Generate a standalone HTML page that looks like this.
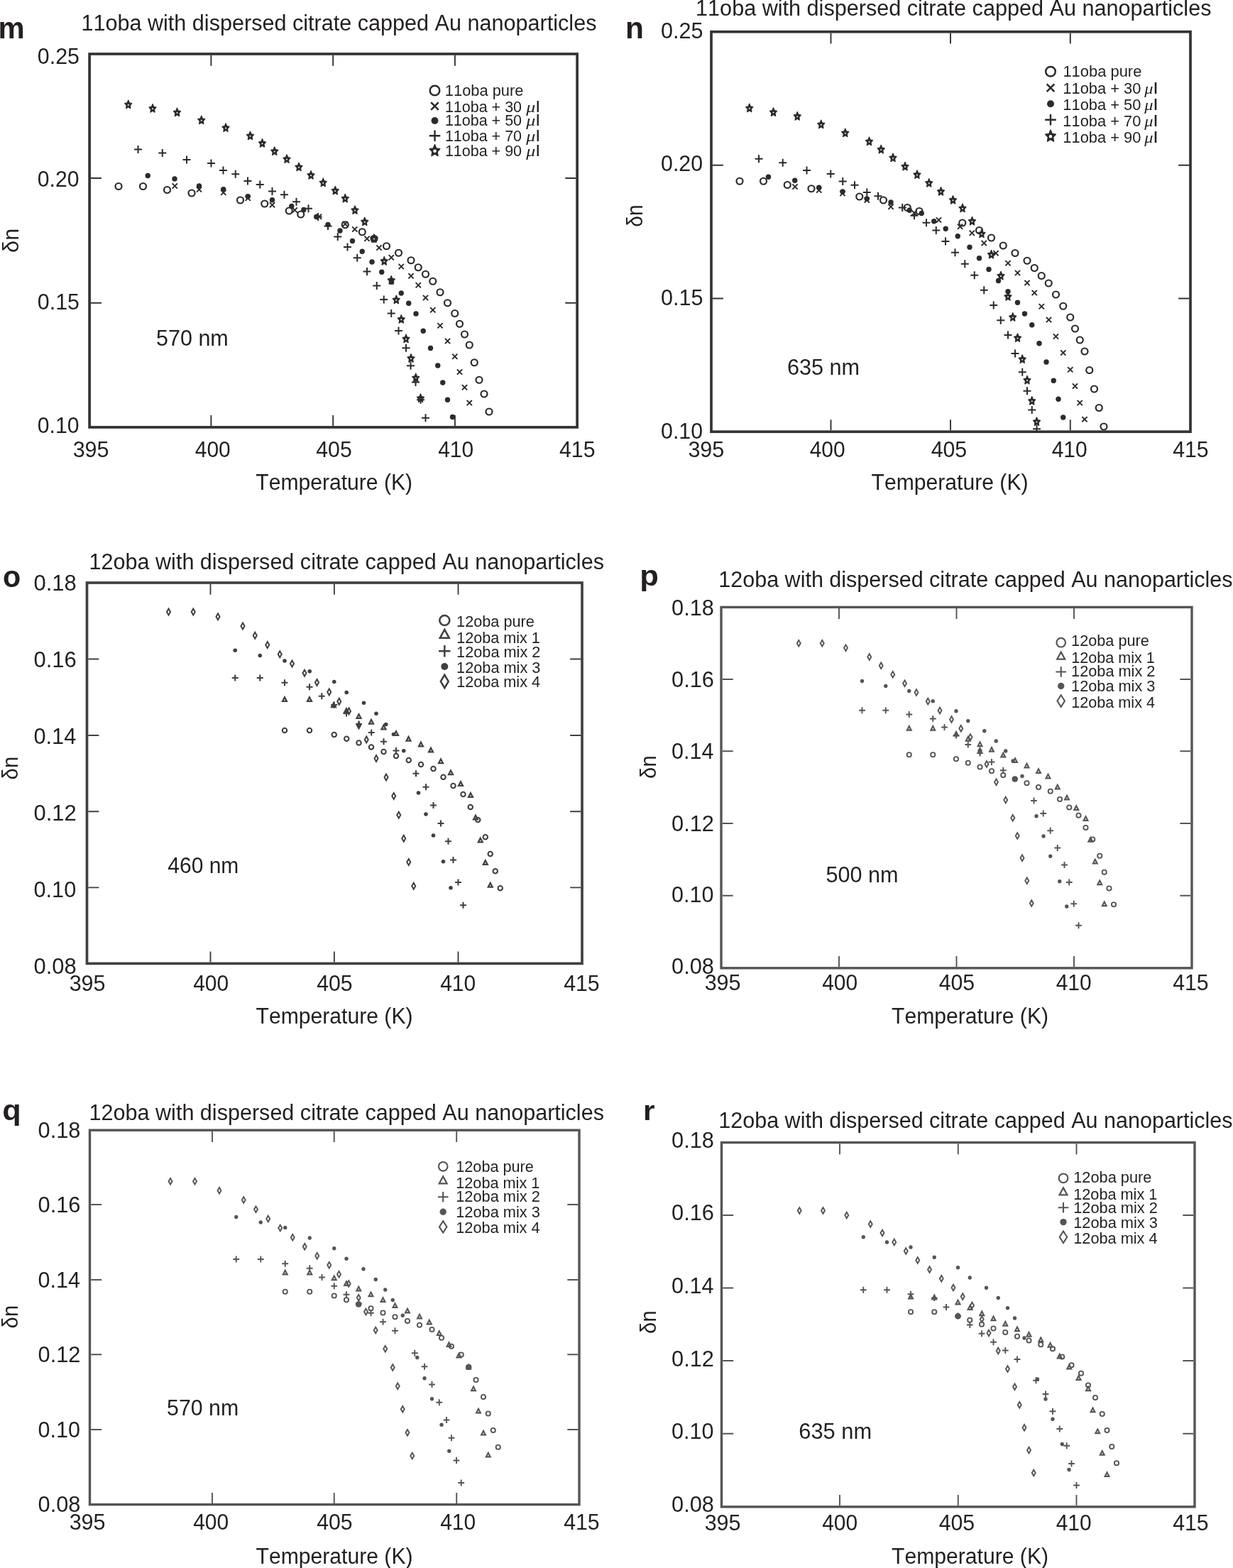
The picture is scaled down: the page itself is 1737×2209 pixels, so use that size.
<!DOCTYPE html>
<html lang="en"><head><meta charset="utf-8"><title>Birefringence of 11oba and 12oba with dispersed citrate capped Au nanoparticles</title>
<style>html,body{margin:0;padding:0;background:#fff}figure{margin:0;width:1737px;height:2209px;overflow:hidden}svg{display:block}text{white-space:pre;font-kerning:none}</style></head>
<body>
<figure>
<svg width="1737" height="2209" viewBox="0 0 1737 2209" font-family='"Liberation Sans", sans-serif' fill="#231f20">
<rect width="1737" height="2209" fill="#fff"/>
<g id="panel-m" aria-label="11oba with dispersed citrate capped Au nanoparticles — 570 nm">
<g class="plot">
<path d="M297.4 77.85v15M297.4 600.05v-15M469.2 77.85v15M469.2 600.05v-15M640.9 77.85v15M640.9 600.05v-15M127.95 251h15M811.25 251h-15M127.95 426.8h15M811.25 426.8h-15" stroke="#333" stroke-width="1.9" fill="none"/>
<rect x="126.1" y="76" width="687" height="525.9" fill="none" stroke="#333" stroke-width="3.7"/>
<circle cx="167" cy="262.5" r="4.5" fill="none" stroke="#2b2b2b" stroke-width="2.2"/>
<circle cx="201.5" cy="262.5" r="4.5" fill="none" stroke="#2b2b2b" stroke-width="2.2"/>
<circle cx="235.5" cy="267.5" r="4.5" fill="none" stroke="#2b2b2b" stroke-width="2.2"/>
<circle cx="270" cy="272" r="4.5" fill="none" stroke="#2b2b2b" stroke-width="2.2"/>
<circle cx="338.5" cy="282" r="4.5" fill="none" stroke="#2b2b2b" stroke-width="2.2"/>
<circle cx="372.75" cy="287" r="4.5" fill="none" stroke="#2b2b2b" stroke-width="2.2"/>
<circle cx="407.25" cy="297" r="4.5" fill="none" stroke="#2b2b2b" stroke-width="2.2"/>
<circle cx="423.75" cy="302" r="4.5" fill="none" stroke="#2b2b2b" stroke-width="2.2"/>
<circle cx="486.25" cy="316.75" r="4.5" fill="none" stroke="#2b2b2b" stroke-width="2.2"/>
<circle cx="510.25" cy="326.75" r="4.5" fill="none" stroke="#2b2b2b" stroke-width="2.2"/>
<circle cx="527" cy="336.25" r="4.5" fill="none" stroke="#2b2b2b" stroke-width="2.2"/>
<circle cx="544.5" cy="346.75" r="4.5" fill="none" stroke="#2b2b2b" stroke-width="2.2"/>
<circle cx="561.5" cy="356.25" r="4.5" fill="none" stroke="#2b2b2b" stroke-width="2.2"/>
<circle cx="579" cy="366.75" r="4.5" fill="none" stroke="#2b2b2b" stroke-width="2.2"/>
<circle cx="589.25" cy="376.75" r="4.5" fill="none" stroke="#2b2b2b" stroke-width="2.2"/>
<circle cx="599.5" cy="386.25" r="4.5" fill="none" stroke="#2b2b2b" stroke-width="2.2"/>
<circle cx="609.75" cy="396.25" r="4.5" fill="none" stroke="#2b2b2b" stroke-width="2.2"/>
<circle cx="620" cy="411.75" r="4.5" fill="none" stroke="#2b2b2b" stroke-width="2.2"/>
<circle cx="630.5" cy="426.75" r="4.5" fill="none" stroke="#2b2b2b" stroke-width="2.2"/>
<circle cx="640.75" cy="441.5" r="4.5" fill="none" stroke="#2b2b2b" stroke-width="2.2"/>
<circle cx="647.5" cy="456.25" r="4.5" fill="none" stroke="#2b2b2b" stroke-width="2.2"/>
<circle cx="654.5" cy="471" r="4.5" fill="none" stroke="#2b2b2b" stroke-width="2.2"/>
<circle cx="661.25" cy="486" r="4.5" fill="none" stroke="#2b2b2b" stroke-width="2.2"/>
<circle cx="668.25" cy="510.75" r="4.5" fill="none" stroke="#2b2b2b" stroke-width="2.2"/>
<circle cx="675" cy="535.25" r="4.5" fill="none" stroke="#2b2b2b" stroke-width="2.2"/>
<circle cx="682" cy="555" r="4.5" fill="none" stroke="#2b2b2b" stroke-width="2.2"/>
<circle cx="689" cy="580" r="4.5" fill="none" stroke="#2b2b2b" stroke-width="2.2"/>
<path d="M242.65 258.4L249.85 265.6M242.65 265.6L249.85 258.4" stroke="#2b2b2b" stroke-width="2" fill="none"/>
<path d="M276.9 263.4L284.1 270.6M276.9 270.6L284.1 263.4" stroke="#2b2b2b" stroke-width="2" fill="none"/>
<path d="M311.15 267.65L318.35 274.85M311.15 274.85L318.35 267.65" stroke="#2b2b2b" stroke-width="2" fill="none"/>
<path d="M345.65 275.65L352.85 282.85M345.65 282.85L352.85 275.65" stroke="#2b2b2b" stroke-width="2" fill="none"/>
<path d="M379.9 285.15L387.1 292.35M379.9 292.35L387.1 285.15" stroke="#2b2b2b" stroke-width="2" fill="none"/>
<path d="M411.65 292.4L418.85 299.6M411.65 299.6L418.85 292.4" stroke="#2b2b2b" stroke-width="2" fill="none"/>
<path d="M445.9 301.65L453.1 308.85M445.9 308.85L453.1 301.65" stroke="#2b2b2b" stroke-width="2" fill="none"/>
<path d="M482.65 311.9L489.85 319.1M482.65 319.1L489.85 311.9" stroke="#2b2b2b" stroke-width="2" fill="none"/>
<path d="M496.15 319.4L503.35 326.6M496.15 326.6L503.35 319.4" stroke="#2b2b2b" stroke-width="2" fill="none"/>
<path d="M513.4 332.65L520.6 339.85M513.4 339.85L520.6 332.65" stroke="#2b2b2b" stroke-width="2" fill="none"/>
<path d="M530.4 345.4L537.6 352.6M530.4 352.6L537.6 345.4" stroke="#2b2b2b" stroke-width="2" fill="none"/>
<path d="M547.65 359.15L554.85 366.35M547.65 366.35L554.85 359.15" stroke="#2b2b2b" stroke-width="2" fill="none"/>
<path d="M561.65 371.9L568.85 379.1M561.65 379.1L568.85 371.9" stroke="#2b2b2b" stroke-width="2" fill="none"/>
<path d="M575.4 385.15L582.6 392.35M575.4 392.35L582.6 385.15" stroke="#2b2b2b" stroke-width="2" fill="none"/>
<path d="M585.65 398.15L592.85 405.35M585.65 405.35L592.85 398.15" stroke="#2b2b2b" stroke-width="2" fill="none"/>
<path d="M595.9 415.9L603.1 423.1M595.9 423.1L603.1 415.9" stroke="#2b2b2b" stroke-width="2" fill="none"/>
<path d="M606.15 433.15L613.35 440.35M606.15 440.35L613.35 433.15" stroke="#2b2b2b" stroke-width="2" fill="none"/>
<path d="M616.4 455.15L623.6 462.35M616.4 462.35L623.6 455.15" stroke="#2b2b2b" stroke-width="2" fill="none"/>
<path d="M626.9 476.9L634.1 484.1M626.9 484.1L634.1 476.9" stroke="#2b2b2b" stroke-width="2" fill="none"/>
<path d="M637.15 498.65L644.35 505.85M637.15 505.85L644.35 498.65" stroke="#2b2b2b" stroke-width="2" fill="none"/>
<path d="M643.9 520.4L651.1 527.6M643.9 527.6L651.1 520.4" stroke="#2b2b2b" stroke-width="2" fill="none"/>
<path d="M650.9 542.15L658.1 549.35M650.9 549.35L658.1 542.15" stroke="#2b2b2b" stroke-width="2" fill="none"/>
<path d="M657.65 563.9L664.85 571.1M657.65 571.1L664.85 563.9" stroke="#2b2b2b" stroke-width="2" fill="none"/>
<path d="M189 210.5H200M194.5 205V216" stroke="#2b2b2b" stroke-width="2" fill="none"/>
<path d="M223.25 215.5H234.25M228.75 210V221" stroke="#2b2b2b" stroke-width="2" fill="none"/>
<path d="M257.5 225H268.5M263 219.5V230.5" stroke="#2b2b2b" stroke-width="2" fill="none"/>
<path d="M292 230H303M297.5 224.5V235.5" stroke="#2b2b2b" stroke-width="2" fill="none"/>
<path d="M309 240H320M314.5 234.5V245.5" stroke="#2b2b2b" stroke-width="2" fill="none"/>
<path d="M326.25 245.25H337.25M331.75 239.75V250.75" stroke="#2b2b2b" stroke-width="2" fill="none"/>
<path d="M343.5 255H354.5M349 249.5V260.5" stroke="#2b2b2b" stroke-width="2" fill="none"/>
<path d="M360.75 260H371.75M366.25 254.5V265.5" stroke="#2b2b2b" stroke-width="2" fill="none"/>
<path d="M378 269.5H389M383.5 264V275" stroke="#2b2b2b" stroke-width="2" fill="none"/>
<path d="M395 274.25H406M400.5 268.75V279.75" stroke="#2b2b2b" stroke-width="2" fill="none"/>
<path d="M412 284.25H423M417.5 278.75V289.75" stroke="#2b2b2b" stroke-width="2" fill="none"/>
<path d="M429 293.75H440M434.5 288.25V299.25" stroke="#2b2b2b" stroke-width="2" fill="none"/>
<path d="M442.7 305.6H453.7M448.2 300.1V311.1" stroke="#2b2b2b" stroke-width="2" fill="none"/>
<path d="M456.5 318.5H467.5M462 313V324" stroke="#2b2b2b" stroke-width="2" fill="none"/>
<path d="M470.3 333.4H481.3M475.8 327.9V338.9" stroke="#2b2b2b" stroke-width="2" fill="none"/>
<path d="M484 348H495M489.5 342.5V353.5" stroke="#2b2b2b" stroke-width="2" fill="none"/>
<path d="M497.75 363.25H508.75M503.25 357.75V368.75" stroke="#2b2b2b" stroke-width="2" fill="none"/>
<path d="M511.5 382.5H522.5M517 377V388" stroke="#2b2b2b" stroke-width="2" fill="none"/>
<path d="M525.25 402.5H536.25M530.75 397V408" stroke="#2b2b2b" stroke-width="2" fill="none"/>
<path d="M535.25 422H546.25M540.75 416.5V427.5" stroke="#2b2b2b" stroke-width="2" fill="none"/>
<path d="M545.75 441.5H556.75M551.25 436V447" stroke="#2b2b2b" stroke-width="2" fill="none"/>
<path d="M556 466H567M561.5 460.5V471.5" stroke="#2b2b2b" stroke-width="2" fill="none"/>
<path d="M566.5 490.25H577.5M572 484.75V495.75" stroke="#2b2b2b" stroke-width="2" fill="none"/>
<path d="M573 515.25H584M578.5 509.75V520.75" stroke="#2b2b2b" stroke-width="2" fill="none"/>
<path d="M580 538.5H591M585.5 533V544" stroke="#2b2b2b" stroke-width="2" fill="none"/>
<path d="M587 563.25H598M592.5 557.75V568.75" stroke="#2b2b2b" stroke-width="2" fill="none"/>
<path d="M594 588.75H605M599.5 583.25V594.25" stroke="#2b2b2b" stroke-width="2" fill="none"/>
<circle cx="208.25" cy="247.5" r="3.7" fill="#2b2b2b"/>
<circle cx="246" cy="252" r="3.7" fill="#2b2b2b"/>
<circle cx="280.5" cy="262" r="3.7" fill="#2b2b2b"/>
<circle cx="314.75" cy="266.75" r="3.7" fill="#2b2b2b"/>
<circle cx="349.25" cy="276.75" r="3.7" fill="#2b2b2b"/>
<circle cx="383.5" cy="281.75" r="3.7" fill="#2b2b2b"/>
<circle cx="410.75" cy="290.5" r="3.7" fill="#2b2b2b"/>
<circle cx="427.9" cy="295.4" r="3.7" fill="#2b2b2b"/>
<circle cx="445.75" cy="305.5" r="3.7" fill="#2b2b2b"/>
<circle cx="462" cy="316.5" r="3.7" fill="#2b2b2b"/>
<circle cx="479" cy="325" r="3.7" fill="#2b2b2b"/>
<circle cx="496.5" cy="339.5" r="3.7" fill="#2b2b2b"/>
<circle cx="510.25" cy="354.25" r="3.7" fill="#2b2b2b"/>
<circle cx="524" cy="369" r="3.7" fill="#2b2b2b"/>
<circle cx="537.75" cy="383.25" r="3.7" fill="#2b2b2b"/>
<circle cx="551.5" cy="397.25" r="3.7" fill="#2b2b2b"/>
<circle cx="565.25" cy="413" r="3.7" fill="#2b2b2b"/>
<circle cx="575.75" cy="427.25" r="3.7" fill="#2b2b2b"/>
<circle cx="586" cy="442" r="3.7" fill="#2b2b2b"/>
<circle cx="596.25" cy="466.25" r="3.7" fill="#2b2b2b"/>
<circle cx="606.5" cy="490.5" r="3.7" fill="#2b2b2b"/>
<circle cx="616.75" cy="515" r="3.7" fill="#2b2b2b"/>
<circle cx="623.75" cy="539" r="3.7" fill="#2b2b2b"/>
<circle cx="630.5" cy="563.25" r="3.7" fill="#2b2b2b"/>
<circle cx="637.5" cy="587.5" r="3.7" fill="#2b2b2b"/>
<path fill-rule="evenodd" d="M180.75 141.1L182.31 144.91L185.8 145.52L183.28 148.49L183.87 152.68L180.75 150.7L177.63 152.68L178.22 148.49L175.7 145.52L179.19 144.91ZM179.15 147.8a1.6 1.6 0 1 0 3.2 0a1.6 1.6 0 1 0 -3.2 0Z" fill="#2b2b2b" stroke="#2b2b2b" stroke-width="1.2" stroke-linejoin="round"/>
<path fill-rule="evenodd" d="M215 146.6L216.56 150.41L220.05 151.02L217.53 153.99L218.12 158.18L215 156.2L211.88 158.18L212.47 153.99L209.95 151.02L213.44 150.41ZM213.4 153.3a1.6 1.6 0 1 0 3.2 0a1.6 1.6 0 1 0 -3.2 0Z" fill="#2b2b2b" stroke="#2b2b2b" stroke-width="1.2" stroke-linejoin="round"/>
<path fill-rule="evenodd" d="M249.5 152.1L251.06 155.91L254.55 156.52L252.03 159.49L252.62 163.68L249.5 161.7L246.38 163.68L246.97 159.49L244.45 156.52L247.94 155.91ZM247.9 158.8a1.6 1.6 0 1 0 3.2 0a1.6 1.6 0 1 0 -3.2 0Z" fill="#2b2b2b" stroke="#2b2b2b" stroke-width="1.2" stroke-linejoin="round"/>
<path fill-rule="evenodd" d="M283.75 163.1L285.31 166.91L288.8 167.52L286.28 170.49L286.87 174.68L283.75 172.7L280.63 174.68L281.22 170.49L278.7 167.52L282.19 166.91ZM282.15 169.8a1.6 1.6 0 1 0 3.2 0a1.6 1.6 0 1 0 -3.2 0Z" fill="#2b2b2b" stroke="#2b2b2b" stroke-width="1.2" stroke-linejoin="round"/>
<path fill-rule="evenodd" d="M318 173.85L319.56 177.66L323.05 178.27L320.53 181.24L321.12 185.43L318 183.45L314.88 185.43L315.47 181.24L312.95 178.27L316.44 177.66ZM316.4 180.55a1.6 1.6 0 1 0 3.2 0a1.6 1.6 0 1 0 -3.2 0Z" fill="#2b2b2b" stroke="#2b2b2b" stroke-width="1.2" stroke-linejoin="round"/>
<path fill-rule="evenodd" d="M352.5 185.1L354.06 188.91L357.55 189.52L355.03 192.49L355.62 196.68L352.5 194.7L349.38 196.68L349.97 192.49L347.45 189.52L350.94 188.91ZM350.9 191.8a1.6 1.6 0 1 0 3.2 0a1.6 1.6 0 1 0 -3.2 0Z" fill="#2b2b2b" stroke="#2b2b2b" stroke-width="1.2" stroke-linejoin="round"/>
<path fill-rule="evenodd" d="M369.5 195.6L371.06 199.41L374.55 200.02L372.03 202.99L372.62 207.18L369.5 205.2L366.38 207.18L366.97 202.99L364.45 200.02L367.94 199.41ZM367.9 202.3a1.6 1.6 0 1 0 3.2 0a1.6 1.6 0 1 0 -3.2 0Z" fill="#2b2b2b" stroke="#2b2b2b" stroke-width="1.2" stroke-linejoin="round"/>
<path fill-rule="evenodd" d="M386.75 206.85L388.31 210.66L391.8 211.27L389.28 214.24L389.87 218.43L386.75 216.45L383.63 218.43L384.22 214.24L381.7 211.27L385.19 210.66ZM385.15 213.55a1.6 1.6 0 1 0 3.2 0a1.6 1.6 0 1 0 -3.2 0Z" fill="#2b2b2b" stroke="#2b2b2b" stroke-width="1.2" stroke-linejoin="round"/>
<path fill-rule="evenodd" d="M404 217.85L405.56 221.66L409.05 222.27L406.53 225.24L407.12 229.43L404 227.45L400.88 229.43L401.47 225.24L398.95 222.27L402.44 221.66ZM402.4 224.55a1.6 1.6 0 1 0 3.2 0a1.6 1.6 0 1 0 -3.2 0Z" fill="#2b2b2b" stroke="#2b2b2b" stroke-width="1.2" stroke-linejoin="round"/>
<path fill-rule="evenodd" d="M421 229.1L422.56 232.91L426.05 233.52L423.53 236.49L424.12 240.68L421 238.7L417.88 240.68L418.47 236.49L415.95 233.52L419.44 232.91ZM419.4 235.8a1.6 1.6 0 1 0 3.2 0a1.6 1.6 0 1 0 -3.2 0Z" fill="#2b2b2b" stroke="#2b2b2b" stroke-width="1.2" stroke-linejoin="round"/>
<path fill-rule="evenodd" d="M438 240.6L439.56 244.41L443.05 245.02L440.53 247.99L441.12 252.18L438 250.2L434.88 252.18L435.47 247.99L432.95 245.02L436.44 244.41ZM436.4 247.3a1.6 1.6 0 1 0 3.2 0a1.6 1.6 0 1 0 -3.2 0Z" fill="#2b2b2b" stroke="#2b2b2b" stroke-width="1.2" stroke-linejoin="round"/>
<path fill-rule="evenodd" d="M455.25 251.1L456.81 254.91L460.3 255.52L457.78 258.49L458.37 262.68L455.25 260.7L452.13 262.68L452.72 258.49L450.2 255.52L453.69 254.91ZM453.65 257.8a1.6 1.6 0 1 0 3.2 0a1.6 1.6 0 1 0 -3.2 0Z" fill="#2b2b2b" stroke="#2b2b2b" stroke-width="1.2" stroke-linejoin="round"/>
<path fill-rule="evenodd" d="M472.25 262.35L473.81 266.16L477.3 266.77L474.78 269.74L475.37 273.93L472.25 271.95L469.13 273.93L469.72 269.74L467.2 266.77L470.69 266.16ZM470.65 269.05a1.6 1.6 0 1 0 3.2 0a1.6 1.6 0 1 0 -3.2 0Z" fill="#2b2b2b" stroke="#2b2b2b" stroke-width="1.2" stroke-linejoin="round"/>
<path fill-rule="evenodd" d="M486.25 273.35L487.81 277.16L491.3 277.77L488.78 280.74L489.37 284.93L486.25 282.95L483.13 284.93L483.72 280.74L481.2 277.77L484.69 277.16ZM484.65 280.05a1.6 1.6 0 1 0 3.2 0a1.6 1.6 0 1 0 -3.2 0Z" fill="#2b2b2b" stroke="#2b2b2b" stroke-width="1.2" stroke-linejoin="round"/>
<path fill-rule="evenodd" d="M500 289.85L501.56 293.66L505.05 294.27L502.53 297.24L503.12 301.43L500 299.45L496.88 301.43L497.47 297.24L494.95 294.27L498.44 293.66ZM498.4 296.55a1.6 1.6 0 1 0 3.2 0a1.6 1.6 0 1 0 -3.2 0Z" fill="#2b2b2b" stroke="#2b2b2b" stroke-width="1.2" stroke-linejoin="round"/>
<path fill-rule="evenodd" d="M513.75 306.1L515.31 309.91L518.8 310.52L516.28 313.49L516.87 317.68L513.75 315.7L510.63 317.68L511.22 313.49L508.7 310.52L512.19 309.91ZM512.15 312.8a1.6 1.6 0 1 0 3.2 0a1.6 1.6 0 1 0 -3.2 0Z" fill="#2b2b2b" stroke="#2b2b2b" stroke-width="1.2" stroke-linejoin="round"/>
<path fill-rule="evenodd" d="M527 329.85L528.56 333.66L532.05 334.27L529.53 337.24L530.12 341.43L527 339.45L523.88 341.43L524.47 337.24L521.95 334.27L525.44 333.66ZM525.4 336.55a1.6 1.6 0 1 0 3.2 0a1.6 1.6 0 1 0 -3.2 0Z" fill="#2b2b2b" stroke="#2b2b2b" stroke-width="1.2" stroke-linejoin="round"/>
<path fill-rule="evenodd" d="M541.25 361.6L542.81 365.41L546.3 366.02L543.78 368.99L544.37 373.18L541.25 371.2L538.13 373.18L538.72 368.99L536.2 366.02L539.69 365.41ZM539.65 368.3a1.6 1.6 0 1 0 3.2 0a1.6 1.6 0 1 0 -3.2 0Z" fill="#2b2b2b" stroke="#2b2b2b" stroke-width="1.2" stroke-linejoin="round"/>
<path fill-rule="evenodd" d="M551.25 388.6L552.81 392.41L556.3 393.02L553.78 395.99L554.37 400.18L551.25 398.2L548.13 400.18L548.72 395.99L546.2 393.02L549.69 392.41ZM549.65 395.3a1.6 1.6 0 1 0 3.2 0a1.6 1.6 0 1 0 -3.2 0Z" fill="#2b2b2b" stroke="#2b2b2b" stroke-width="1.2" stroke-linejoin="round"/>
<path fill-rule="evenodd" d="M558.25 416.1L559.81 419.91L563.3 420.52L560.78 423.49L561.37 427.68L558.25 425.7L555.13 427.68L555.72 423.49L553.2 420.52L556.69 419.91ZM556.65 422.8a1.6 1.6 0 1 0 3.2 0a1.6 1.6 0 1 0 -3.2 0Z" fill="#2b2b2b" stroke="#2b2b2b" stroke-width="1.2" stroke-linejoin="round"/>
<path fill-rule="evenodd" d="M565.25 443.6L566.81 447.41L570.3 448.02L567.78 450.99L568.37 455.18L565.25 453.2L562.13 455.18L562.72 450.99L560.2 448.02L563.69 447.41ZM563.65 450.3a1.6 1.6 0 1 0 3.2 0a1.6 1.6 0 1 0 -3.2 0Z" fill="#2b2b2b" stroke="#2b2b2b" stroke-width="1.2" stroke-linejoin="round"/>
<path fill-rule="evenodd" d="M572 471.1L573.56 474.91L577.05 475.52L574.53 478.49L575.12 482.68L572 480.7L568.88 482.68L569.47 478.49L566.95 475.52L570.44 474.91ZM570.4 477.8a1.6 1.6 0 1 0 3.2 0a1.6 1.6 0 1 0 -3.2 0Z" fill="#2b2b2b" stroke="#2b2b2b" stroke-width="1.2" stroke-linejoin="round"/>
<path fill-rule="evenodd" d="M579 498.6L580.56 502.41L584.05 503.02L581.53 505.99L582.12 510.18L579 508.2L575.88 510.18L576.47 505.99L573.95 503.02L577.44 502.41ZM577.4 505.3a1.6 1.6 0 1 0 3.2 0a1.6 1.6 0 1 0 -3.2 0Z" fill="#2b2b2b" stroke="#2b2b2b" stroke-width="1.2" stroke-linejoin="round"/>
<path fill-rule="evenodd" d="M585.75 526.1L587.31 529.91L590.8 530.52L588.28 533.49L588.87 537.68L585.75 535.7L582.63 537.68L583.22 533.49L580.7 530.52L584.19 529.91ZM584.15 532.8a1.6 1.6 0 1 0 3.2 0a1.6 1.6 0 1 0 -3.2 0Z" fill="#2b2b2b" stroke="#2b2b2b" stroke-width="1.2" stroke-linejoin="round"/>
<path fill-rule="evenodd" d="M592.5 554.85L594.06 558.66L597.55 559.27L595.03 562.24L595.62 566.43L592.5 564.45L589.38 566.43L589.97 562.24L587.45 559.27L590.94 558.66ZM590.9 561.55a1.6 1.6 0 1 0 3.2 0a1.6 1.6 0 1 0 -3.2 0Z" fill="#2b2b2b" stroke="#2b2b2b" stroke-width="1.2" stroke-linejoin="round"/>
<circle cx="612.5" cy="127.5" r="6.8" fill="none" stroke="#2b2b2b" stroke-width="2.5"/>
<path d="M607.2 144.2L617.8 154.8M607.2 154.8L617.8 144.2" stroke="#2b2b2b" stroke-width="2.6" fill="none"/>
<circle cx="612.5" cy="170" r="5" fill="#2b2b2b"/>
<path d="M604.7 191.25H620.3M612.5 183.45V199.05" stroke="#2b2b2b" stroke-width="2.4" fill="none"/>
<path fill-rule="evenodd" d="M612.5 203.6L614.75 208.9L619.78 209.75L616.14 213.88L617 219.7L612.5 216.95L608 219.7L608.86 213.88L605.22 209.75L610.25 208.9ZM609.5 212.8a3 3 0 1 0 6 0a3 3 0 1 0 -6 0Z" fill="#2b2b2b" stroke="#2b2b2b" stroke-width="1.4" stroke-linejoin="round"/>
</g>
<g class="labels">
<text x="114.39" y="43.40" font-size="31" textLength="726.07" lengthAdjust="spacingAndGlyphs">11oba with dispersed citrate capped Au nanoparticles</text>
<text x="-2.61" y="53.90" font-size="42" font-weight="bold" textLength="37.16" lengthAdjust="spacingAndGlyphs">m</text>
<text x="52.80" y="89.50" font-size="31.8" textLength="59.18" lengthAdjust="spacingAndGlyphs">0.25</text>
<text x="52.81" y="262.50" font-size="31.8" textLength="58.69" lengthAdjust="spacingAndGlyphs">0.20</text>
<text x="52.80" y="435.80" font-size="31.8" textLength="59.18" lengthAdjust="spacingAndGlyphs">0.15</text>
<text x="52.81" y="609.60" font-size="31.8" textLength="58.69" lengthAdjust="spacingAndGlyphs">0.10</text>
<text x="102.64" y="643.75" font-size="31.8" textLength="50.99" lengthAdjust="spacingAndGlyphs">395</text>
<text x="274.73" y="643.75" font-size="31.8" textLength="50.01" lengthAdjust="spacingAndGlyphs">400</text>
<text x="445.23" y="643.75" font-size="31.8" textLength="50.50" lengthAdjust="spacingAndGlyphs">405</text>
<text x="617.13" y="643.75" font-size="31.8" textLength="50.01" lengthAdjust="spacingAndGlyphs">410</text>
<text x="788.03" y="643.75" font-size="31.8" textLength="50.50" lengthAdjust="spacingAndGlyphs">415</text>
<text x="360.28" y="690.00" font-size="31" textLength="220.78" lengthAdjust="spacingAndGlyphs">Temperature (K)</text>
<text x="220.05" y="487.00" font-size="31.8" textLength="101.73" lengthAdjust="spacingAndGlyphs">570 nm</text>
<text x="-0.96" y="0.00" font-size="31.8" textLength="34.19" lengthAdjust="spacingAndGlyphs" transform="translate(25.5 355) rotate(-90)">δn</text>
<text x="626.89" y="135.00" font-size="21.6" textLength="110.50" lengthAdjust="spacingAndGlyphs">11oba pure</text>
<text y="158.00" font-size="21.6"><tspan x="626.91" textLength="108.13" lengthAdjust="spacingAndGlyphs">11oba + 30</tspan> <tspan x="741.15" textLength="12.95" lengthAdjust="spacingAndGlyphs" font-family='"Liberation Serif", serif' font-style="italic">μ</tspan><tspan x="754.83" textLength="5.92" lengthAdjust="spacingAndGlyphs">l</tspan></text>
<text y="176.90" font-size="21.6"><tspan x="626.91" textLength="108.13" lengthAdjust="spacingAndGlyphs">11oba + 50</tspan> <tspan x="741.15" textLength="12.95" lengthAdjust="spacingAndGlyphs" font-family='"Liberation Serif", serif' font-style="italic">μ</tspan><tspan x="754.83" textLength="5.92" lengthAdjust="spacingAndGlyphs">l</tspan></text>
<text y="198.75" font-size="21.6"><tspan x="626.91" textLength="108.13" lengthAdjust="spacingAndGlyphs">11oba + 70</tspan> <tspan x="741.15" textLength="12.95" lengthAdjust="spacingAndGlyphs" font-family='"Liberation Serif", serif' font-style="italic">μ</tspan><tspan x="754.83" textLength="5.92" lengthAdjust="spacingAndGlyphs">l</tspan></text>
<text y="220.00" font-size="21.6"><tspan x="626.91" textLength="108.13" lengthAdjust="spacingAndGlyphs">11oba + 90</tspan> <tspan x="741.15" textLength="12.95" lengthAdjust="spacingAndGlyphs" font-family='"Liberation Serif", serif' font-style="italic">μ</tspan><tspan x="754.83" textLength="5.92" lengthAdjust="spacingAndGlyphs">l</tspan></text>
</g>
</g>
<g id="panel-n" aria-label="11oba with dispersed citrate capped Au nanoparticles — 635 nm">
<g class="plot">
<path d="M1170.5 46.6v15M1170.5 606.35v-15M1339 46.6v15M1339 606.35v-15M1507.8 46.6v15M1507.8 606.35v-15M1003.85 232.75h15M1675.15 232.75h-15M1003.85 420.5h15M1675.15 420.5h-15" stroke="#333" stroke-width="1.9" fill="none"/>
<rect x="1002" y="44.75" width="675" height="563.45" fill="none" stroke="#333" stroke-width="3.7"/>
<circle cx="1042" cy="255.25" r="4.5" fill="none" stroke="#2b2b2b" stroke-width="2.2"/>
<circle cx="1075.5" cy="255.25" r="4.5" fill="none" stroke="#2b2b2b" stroke-width="2.2"/>
<circle cx="1109.25" cy="260.5" r="4.5" fill="none" stroke="#2b2b2b" stroke-width="2.2"/>
<circle cx="1143" cy="265.75" r="4.5" fill="none" stroke="#2b2b2b" stroke-width="2.2"/>
<circle cx="1210.75" cy="277" r="4.5" fill="none" stroke="#2b2b2b" stroke-width="2.2"/>
<circle cx="1244.5" cy="282" r="4.5" fill="none" stroke="#2b2b2b" stroke-width="2.2"/>
<circle cx="1278.25" cy="292.5" r="4.5" fill="none" stroke="#2b2b2b" stroke-width="2.2"/>
<circle cx="1295" cy="297.5" r="4.5" fill="none" stroke="#2b2b2b" stroke-width="2.2"/>
<circle cx="1355.75" cy="314" r="4.5" fill="none" stroke="#2b2b2b" stroke-width="2.2"/>
<circle cx="1379.5" cy="324.5" r="4.5" fill="none" stroke="#2b2b2b" stroke-width="2.2"/>
<circle cx="1396.5" cy="335" r="4.5" fill="none" stroke="#2b2b2b" stroke-width="2.2"/>
<circle cx="1413.25" cy="346" r="4.5" fill="none" stroke="#2b2b2b" stroke-width="2.2"/>
<circle cx="1430" cy="356.5" r="4.5" fill="none" stroke="#2b2b2b" stroke-width="2.2"/>
<circle cx="1447" cy="367.25" r="4.5" fill="none" stroke="#2b2b2b" stroke-width="2.2"/>
<circle cx="1457.25" cy="377.5" r="4.5" fill="none" stroke="#2b2b2b" stroke-width="2.2"/>
<circle cx="1467.25" cy="388.5" r="4.5" fill="none" stroke="#2b2b2b" stroke-width="2.2"/>
<circle cx="1477.25" cy="399" r="4.5" fill="none" stroke="#2b2b2b" stroke-width="2.2"/>
<circle cx="1487.5" cy="415" r="4.5" fill="none" stroke="#2b2b2b" stroke-width="2.2"/>
<circle cx="1497.75" cy="431.25" r="4.5" fill="none" stroke="#2b2b2b" stroke-width="2.2"/>
<circle cx="1507.75" cy="447" r="4.5" fill="none" stroke="#2b2b2b" stroke-width="2.2"/>
<circle cx="1514.5" cy="463" r="4.5" fill="none" stroke="#2b2b2b" stroke-width="2.2"/>
<circle cx="1521.25" cy="479" r="4.5" fill="none" stroke="#2b2b2b" stroke-width="2.2"/>
<circle cx="1528" cy="495" r="4.5" fill="none" stroke="#2b2b2b" stroke-width="2.2"/>
<circle cx="1534.75" cy="521.5" r="4.5" fill="none" stroke="#2b2b2b" stroke-width="2.2"/>
<circle cx="1541.5" cy="548" r="4.5" fill="none" stroke="#2b2b2b" stroke-width="2.2"/>
<circle cx="1548.25" cy="574.5" r="4.5" fill="none" stroke="#2b2b2b" stroke-width="2.2"/>
<circle cx="1555" cy="601" r="4.5" fill="none" stroke="#2b2b2b" stroke-width="2.2"/>
<path d="M1116.4 259.4L1123.6 266.6M1116.4 266.6L1123.6 259.4" stroke="#2b2b2b" stroke-width="2" fill="none"/>
<path d="M1150.15 264.4L1157.35 271.6M1150.15 271.6L1157.35 264.4" stroke="#2b2b2b" stroke-width="2" fill="none"/>
<path d="M1183.4 268.9L1190.6 276.1M1183.4 276.1L1190.6 268.9" stroke="#2b2b2b" stroke-width="2" fill="none"/>
<path d="M1217.65 278.4L1224.85 285.6M1217.65 285.6L1224.85 278.4" stroke="#2b2b2b" stroke-width="2" fill="none"/>
<path d="M1251.4 287.65L1258.6 294.85M1251.4 294.85L1258.6 287.65" stroke="#2b2b2b" stroke-width="2" fill="none"/>
<path d="M1284.4 296.4L1291.6 303.6M1284.4 303.6L1291.6 296.4" stroke="#2b2b2b" stroke-width="2" fill="none"/>
<path d="M1318.9 306.4L1326.1 313.6M1318.9 313.6L1326.1 306.4" stroke="#2b2b2b" stroke-width="2" fill="none"/>
<path d="M1348.9 315.65L1356.1 322.85M1348.9 322.85L1356.1 315.65" stroke="#2b2b2b" stroke-width="2" fill="none"/>
<path d="M1365.65 324.65L1372.85 331.85M1365.65 331.85L1372.85 324.65" stroke="#2b2b2b" stroke-width="2" fill="none"/>
<path d="M1382.65 338.9L1389.85 346.1M1382.65 346.1L1389.85 338.9" stroke="#2b2b2b" stroke-width="2" fill="none"/>
<path d="M1399.4 353.15L1406.6 360.35M1399.4 360.35L1406.6 353.15" stroke="#2b2b2b" stroke-width="2" fill="none"/>
<path d="M1416.4 367.15L1423.6 374.35M1416.4 374.35L1423.6 367.15" stroke="#2b2b2b" stroke-width="2" fill="none"/>
<path d="M1429.9 380.9L1437.1 388.1M1429.9 388.1L1437.1 380.9" stroke="#2b2b2b" stroke-width="2" fill="none"/>
<path d="M1443.4 394.9L1450.6 402.1M1443.4 402.1L1450.6 394.9" stroke="#2b2b2b" stroke-width="2" fill="none"/>
<path d="M1453.65 408.9L1460.85 416.1M1453.65 416.1L1460.85 408.9" stroke="#2b2b2b" stroke-width="2" fill="none"/>
<path d="M1463.65 428.15L1470.85 435.35M1463.65 435.35L1470.85 428.15" stroke="#2b2b2b" stroke-width="2" fill="none"/>
<path d="M1473.9 446.9L1481.1 454.1M1473.9 454.1L1481.1 446.9" stroke="#2b2b2b" stroke-width="2" fill="none"/>
<path d="M1483.9 470.4L1491.1 477.6M1483.9 477.6L1491.1 470.4" stroke="#2b2b2b" stroke-width="2" fill="none"/>
<path d="M1494.15 493.4L1501.35 500.6M1494.15 500.6L1501.35 493.4" stroke="#2b2b2b" stroke-width="2" fill="none"/>
<path d="M1504.15 517.15L1511.35 524.35M1504.15 524.35L1511.35 517.15" stroke="#2b2b2b" stroke-width="2" fill="none"/>
<path d="M1510.9 540.4L1518.1 547.6M1510.9 547.6L1518.1 540.4" stroke="#2b2b2b" stroke-width="2" fill="none"/>
<path d="M1517.65 563.9L1524.85 571.1M1517.65 571.1L1524.85 563.9" stroke="#2b2b2b" stroke-width="2" fill="none"/>
<path d="M1524.4 587.15L1531.6 594.35M1524.4 594.35L1531.6 587.15" stroke="#2b2b2b" stroke-width="2" fill="none"/>
<path d="M1063.5 223.75H1074.5M1069 218.25V229.25" stroke="#2b2b2b" stroke-width="2" fill="none"/>
<path d="M1097.25 229.25H1108.25M1102.75 223.75V234.75" stroke="#2b2b2b" stroke-width="2" fill="none"/>
<path d="M1131 240H1142M1136.5 234.5V245.5" stroke="#2b2b2b" stroke-width="2" fill="none"/>
<path d="M1164.75 245H1175.75M1170.25 239.5V250.5" stroke="#2b2b2b" stroke-width="2" fill="none"/>
<path d="M1181.75 255.5H1192.75M1187.25 250V261" stroke="#2b2b2b" stroke-width="2" fill="none"/>
<path d="M1198.5 260.75H1209.5M1204 255.25V266.25" stroke="#2b2b2b" stroke-width="2" fill="none"/>
<path d="M1215.75 271H1226.75M1221.25 265.5V276.5" stroke="#2b2b2b" stroke-width="2" fill="none"/>
<path d="M1231.5 276.25H1242.5M1237 270.75V281.75" stroke="#2b2b2b" stroke-width="2" fill="none"/>
<path d="M1265.75 292.5H1276.75M1271.25 287V298" stroke="#2b2b2b" stroke-width="2" fill="none"/>
<path d="M1282.5 303.75H1293.5M1288 298.25V309.25" stroke="#2b2b2b" stroke-width="2" fill="none"/>
<path d="M1299.5 313.75H1310.5M1305 308.25V319.25" stroke="#2b2b2b" stroke-width="2" fill="none"/>
<path d="M1313.25 324.5H1324.25M1318.75 319V330" stroke="#2b2b2b" stroke-width="2" fill="none"/>
<path d="M1326.5 340H1337.5M1332 334.5V345.5" stroke="#2b2b2b" stroke-width="2" fill="none"/>
<path d="M1340 355.75H1351M1345.5 350.25V361.25" stroke="#2b2b2b" stroke-width="2" fill="none"/>
<path d="M1353.75 371.75H1364.75M1359.25 366.25V377.25" stroke="#2b2b2b" stroke-width="2" fill="none"/>
<path d="M1367.25 387.75H1378.25M1372.75 382.25V393.25" stroke="#2b2b2b" stroke-width="2" fill="none"/>
<path d="M1380.75 408.75H1391.75M1386.25 403.25V414.25" stroke="#2b2b2b" stroke-width="2" fill="none"/>
<path d="M1394.25 430H1405.25M1399.75 424.5V435.5" stroke="#2b2b2b" stroke-width="2" fill="none"/>
<path d="M1404.25 451.25H1415.25M1409.75 445.75V456.75" stroke="#2b2b2b" stroke-width="2" fill="none"/>
<path d="M1414.5 472H1425.5M1420 466.5V477.5" stroke="#2b2b2b" stroke-width="2" fill="none"/>
<path d="M1424.5 498H1435.5M1430 492.5V503.5" stroke="#2b2b2b" stroke-width="2" fill="none"/>
<path d="M1434.75 524.25H1445.75M1440.25 518.75V529.75" stroke="#2b2b2b" stroke-width="2" fill="none"/>
<path d="M1441.5 550.75H1452.5M1447 545.25V556.25" stroke="#2b2b2b" stroke-width="2" fill="none"/>
<path d="M1448.25 577.5H1459.25M1453.75 572V583" stroke="#2b2b2b" stroke-width="2" fill="none"/>
<path d="M1455 604.25H1466M1460.5 598.75V609.75" stroke="#2b2b2b" stroke-width="2" fill="none"/>
<circle cx="1082.5" cy="249.25" r="3.7" fill="#2b2b2b"/>
<circle cx="1119.75" cy="254.25" r="3.7" fill="#2b2b2b"/>
<circle cx="1153.75" cy="264.25" r="3.7" fill="#2b2b2b"/>
<circle cx="1187" cy="270" r="3.7" fill="#2b2b2b"/>
<circle cx="1221.25" cy="280" r="3.7" fill="#2b2b2b"/>
<circle cx="1255" cy="285" r="3.7" fill="#2b2b2b"/>
<circle cx="1281.25" cy="296.25" r="3.7" fill="#2b2b2b"/>
<circle cx="1298.25" cy="300.5" r="3.7" fill="#2b2b2b"/>
<circle cx="1315.75" cy="311.75" r="3.7" fill="#2b2b2b"/>
<circle cx="1332.25" cy="322.25" r="3.7" fill="#2b2b2b"/>
<circle cx="1349.25" cy="332.75" r="3.7" fill="#2b2b2b"/>
<circle cx="1366" cy="348.25" r="3.7" fill="#2b2b2b"/>
<circle cx="1379.5" cy="363.75" r="3.7" fill="#2b2b2b"/>
<circle cx="1393" cy="379.5" r="3.7" fill="#2b2b2b"/>
<circle cx="1406.5" cy="395.5" r="3.7" fill="#2b2b2b"/>
<circle cx="1420" cy="410.75" r="3.7" fill="#2b2b2b"/>
<circle cx="1433.5" cy="426.25" r="3.7" fill="#2b2b2b"/>
<circle cx="1443.5" cy="442" r="3.7" fill="#2b2b2b"/>
<circle cx="1453.75" cy="457.75" r="3.7" fill="#2b2b2b"/>
<circle cx="1464" cy="483.75" r="3.7" fill="#2b2b2b"/>
<circle cx="1474" cy="510" r="3.7" fill="#2b2b2b"/>
<circle cx="1484.25" cy="536.25" r="3.7" fill="#2b2b2b"/>
<circle cx="1491" cy="562.25" r="3.7" fill="#2b2b2b"/>
<circle cx="1497.75" cy="588" r="3.7" fill="#2b2b2b"/>
<path fill-rule="evenodd" d="M1055.75 146.1L1057.31 149.91L1060.8 150.52L1058.28 153.49L1058.87 157.68L1055.75 155.7L1052.63 157.68L1053.22 153.49L1050.7 150.52L1054.19 149.91ZM1054.15 152.8a1.6 1.6 0 1 0 3.2 0a1.6 1.6 0 1 0 -3.2 0Z" fill="#2b2b2b" stroke="#2b2b2b" stroke-width="1.2" stroke-linejoin="round"/>
<path fill-rule="evenodd" d="M1089.5 151.85L1091.06 155.66L1094.55 156.27L1092.03 159.24L1092.62 163.43L1089.5 161.45L1086.38 163.43L1086.97 159.24L1084.45 156.27L1087.94 155.66ZM1087.9 158.55a1.6 1.6 0 1 0 3.2 0a1.6 1.6 0 1 0 -3.2 0Z" fill="#2b2b2b" stroke="#2b2b2b" stroke-width="1.2" stroke-linejoin="round"/>
<path fill-rule="evenodd" d="M1123.25 157.6L1124.81 161.41L1128.3 162.02L1125.78 164.99L1126.37 169.18L1123.25 167.2L1120.13 169.18L1120.72 164.99L1118.2 162.02L1121.69 161.41ZM1121.65 164.3a1.6 1.6 0 1 0 3.2 0a1.6 1.6 0 1 0 -3.2 0Z" fill="#2b2b2b" stroke="#2b2b2b" stroke-width="1.2" stroke-linejoin="round"/>
<path fill-rule="evenodd" d="M1156.75 169.1L1158.31 172.91L1161.8 173.52L1159.28 176.49L1159.87 180.68L1156.75 178.7L1153.63 180.68L1154.22 176.49L1151.7 173.52L1155.19 172.91ZM1155.15 175.8a1.6 1.6 0 1 0 3.2 0a1.6 1.6 0 1 0 -3.2 0Z" fill="#2b2b2b" stroke="#2b2b2b" stroke-width="1.2" stroke-linejoin="round"/>
<path fill-rule="evenodd" d="M1190.75 181.1L1192.31 184.91L1195.8 185.52L1193.28 188.49L1193.87 192.68L1190.75 190.7L1187.63 192.68L1188.22 188.49L1185.7 185.52L1189.19 184.91ZM1189.15 187.8a1.6 1.6 0 1 0 3.2 0a1.6 1.6 0 1 0 -3.2 0Z" fill="#2b2b2b" stroke="#2b2b2b" stroke-width="1.2" stroke-linejoin="round"/>
<path fill-rule="evenodd" d="M1224.5 193.1L1226.06 196.91L1229.55 197.52L1227.03 200.49L1227.62 204.68L1224.5 202.7L1221.38 204.68L1221.97 200.49L1219.45 197.52L1222.94 196.91ZM1222.9 199.8a1.6 1.6 0 1 0 3.2 0a1.6 1.6 0 1 0 -3.2 0Z" fill="#2b2b2b" stroke="#2b2b2b" stroke-width="1.2" stroke-linejoin="round"/>
<path fill-rule="evenodd" d="M1241.25 204.35L1242.81 208.16L1246.3 208.77L1243.78 211.74L1244.37 215.93L1241.25 213.95L1238.13 215.93L1238.72 211.74L1236.2 208.77L1239.69 208.16ZM1239.65 211.05a1.6 1.6 0 1 0 3.2 0a1.6 1.6 0 1 0 -3.2 0Z" fill="#2b2b2b" stroke="#2b2b2b" stroke-width="1.2" stroke-linejoin="round"/>
<path fill-rule="evenodd" d="M1258 216.1L1259.56 219.91L1263.05 220.52L1260.53 223.49L1261.12 227.68L1258 225.7L1254.88 227.68L1255.47 223.49L1252.95 220.52L1256.44 219.91ZM1256.4 222.8a1.6 1.6 0 1 0 3.2 0a1.6 1.6 0 1 0 -3.2 0Z" fill="#2b2b2b" stroke="#2b2b2b" stroke-width="1.2" stroke-linejoin="round"/>
<path fill-rule="evenodd" d="M1275 228.35L1276.56 232.16L1280.05 232.77L1277.53 235.74L1278.12 239.93L1275 237.95L1271.88 239.93L1272.47 235.74L1269.95 232.77L1273.44 232.16ZM1273.4 235.05a1.6 1.6 0 1 0 3.2 0a1.6 1.6 0 1 0 -3.2 0Z" fill="#2b2b2b" stroke="#2b2b2b" stroke-width="1.2" stroke-linejoin="round"/>
<path fill-rule="evenodd" d="M1292 239.85L1293.56 243.66L1297.05 244.27L1294.53 247.24L1295.12 251.43L1292 249.45L1288.88 251.43L1289.47 247.24L1286.95 244.27L1290.44 243.66ZM1290.4 246.55a1.6 1.6 0 1 0 3.2 0a1.6 1.6 0 1 0 -3.2 0Z" fill="#2b2b2b" stroke="#2b2b2b" stroke-width="1.2" stroke-linejoin="round"/>
<path fill-rule="evenodd" d="M1308.75 251.6L1310.31 255.41L1313.8 256.02L1311.28 258.99L1311.87 263.18L1308.75 261.2L1305.63 263.18L1306.22 258.99L1303.7 256.02L1307.19 255.41ZM1307.15 258.3a1.6 1.6 0 1 0 3.2 0a1.6 1.6 0 1 0 -3.2 0Z" fill="#2b2b2b" stroke="#2b2b2b" stroke-width="1.2" stroke-linejoin="round"/>
<path fill-rule="evenodd" d="M1325.5 263.6L1327.06 267.41L1330.55 268.02L1328.03 270.99L1328.62 275.18L1325.5 273.2L1322.38 275.18L1322.97 270.99L1320.45 268.02L1323.94 267.41ZM1323.9 270.3a1.6 1.6 0 1 0 3.2 0a1.6 1.6 0 1 0 -3.2 0Z" fill="#2b2b2b" stroke="#2b2b2b" stroke-width="1.2" stroke-linejoin="round"/>
<path fill-rule="evenodd" d="M1342.5 275.6L1344.06 279.41L1347.55 280.02L1345.03 282.99L1345.62 287.18L1342.5 285.2L1339.38 287.18L1339.97 282.99L1337.45 280.02L1340.94 279.41ZM1340.9 282.3a1.6 1.6 0 1 0 3.2 0a1.6 1.6 0 1 0 -3.2 0Z" fill="#2b2b2b" stroke="#2b2b2b" stroke-width="1.2" stroke-linejoin="round"/>
<path fill-rule="evenodd" d="M1356 287.1L1357.56 290.91L1361.05 291.52L1358.53 294.49L1359.12 298.68L1356 296.7L1352.88 298.68L1353.47 294.49L1350.95 291.52L1354.44 290.91ZM1354.4 293.8a1.6 1.6 0 1 0 3.2 0a1.6 1.6 0 1 0 -3.2 0Z" fill="#2b2b2b" stroke="#2b2b2b" stroke-width="1.2" stroke-linejoin="round"/>
<path fill-rule="evenodd" d="M1369.5 305.35L1371.06 309.16L1374.55 309.77L1372.03 312.74L1372.62 316.93L1369.5 314.95L1366.38 316.93L1366.97 312.74L1364.45 309.77L1367.94 309.16ZM1367.9 312.05a1.6 1.6 0 1 0 3.2 0a1.6 1.6 0 1 0 -3.2 0Z" fill="#2b2b2b" stroke="#2b2b2b" stroke-width="1.2" stroke-linejoin="round"/>
<path fill-rule="evenodd" d="M1383 323.1L1384.56 326.91L1388.05 327.52L1385.53 330.49L1386.12 334.68L1383 332.7L1379.88 334.68L1380.47 330.49L1377.95 327.52L1381.44 326.91ZM1381.4 329.8a1.6 1.6 0 1 0 3.2 0a1.6 1.6 0 1 0 -3.2 0Z" fill="#2b2b2b" stroke="#2b2b2b" stroke-width="1.2" stroke-linejoin="round"/>
<path fill-rule="evenodd" d="M1396.5 352.35L1398.06 356.16L1401.55 356.77L1399.03 359.74L1399.62 363.93L1396.5 361.95L1393.38 363.93L1393.97 359.74L1391.45 356.77L1394.94 356.16ZM1394.9 359.05a1.6 1.6 0 1 0 3.2 0a1.6 1.6 0 1 0 -3.2 0Z" fill="#2b2b2b" stroke="#2b2b2b" stroke-width="1.2" stroke-linejoin="round"/>
<path fill-rule="evenodd" d="M1410 382.35L1411.56 386.16L1415.05 386.77L1412.53 389.74L1413.12 393.93L1410 391.95L1406.88 393.93L1407.47 389.74L1404.95 386.77L1408.44 386.16ZM1408.4 389.05a1.6 1.6 0 1 0 3.2 0a1.6 1.6 0 1 0 -3.2 0Z" fill="#2b2b2b" stroke="#2b2b2b" stroke-width="1.2" stroke-linejoin="round"/>
<path fill-rule="evenodd" d="M1420 411.6L1421.56 415.41L1425.05 416.02L1422.53 418.99L1423.12 423.18L1420 421.2L1416.88 423.18L1417.47 418.99L1414.95 416.02L1418.44 415.41ZM1418.4 418.3a1.6 1.6 0 1 0 3.2 0a1.6 1.6 0 1 0 -3.2 0Z" fill="#2b2b2b" stroke="#2b2b2b" stroke-width="1.2" stroke-linejoin="round"/>
<path fill-rule="evenodd" d="M1426.75 440.6L1428.31 444.41L1431.8 445.02L1429.28 447.99L1429.87 452.18L1426.75 450.2L1423.63 452.18L1424.22 447.99L1421.7 445.02L1425.19 444.41ZM1425.15 447.3a1.6 1.6 0 1 0 3.2 0a1.6 1.6 0 1 0 -3.2 0Z" fill="#2b2b2b" stroke="#2b2b2b" stroke-width="1.2" stroke-linejoin="round"/>
<path fill-rule="evenodd" d="M1433.5 469.85L1435.06 473.66L1438.55 474.27L1436.03 477.24L1436.62 481.43L1433.5 479.45L1430.38 481.43L1430.97 477.24L1428.45 474.27L1431.94 473.66ZM1431.9 476.55a1.6 1.6 0 1 0 3.2 0a1.6 1.6 0 1 0 -3.2 0Z" fill="#2b2b2b" stroke="#2b2b2b" stroke-width="1.2" stroke-linejoin="round"/>
<path fill-rule="evenodd" d="M1440.25 499.85L1441.81 503.66L1445.3 504.27L1442.78 507.24L1443.37 511.43L1440.25 509.45L1437.13 511.43L1437.72 507.24L1435.2 504.27L1438.69 503.66ZM1438.65 506.55a1.6 1.6 0 1 0 3.2 0a1.6 1.6 0 1 0 -3.2 0Z" fill="#2b2b2b" stroke="#2b2b2b" stroke-width="1.2" stroke-linejoin="round"/>
<path fill-rule="evenodd" d="M1447 529.35L1448.56 533.16L1452.05 533.77L1449.53 536.74L1450.12 540.93L1447 538.95L1443.88 540.93L1444.47 536.74L1441.95 533.77L1445.44 533.16ZM1445.4 536.05a1.6 1.6 0 1 0 3.2 0a1.6 1.6 0 1 0 -3.2 0Z" fill="#2b2b2b" stroke="#2b2b2b" stroke-width="1.2" stroke-linejoin="round"/>
<path fill-rule="evenodd" d="M1453.75 558.6L1455.31 562.41L1458.8 563.02L1456.28 565.99L1456.87 570.18L1453.75 568.2L1450.63 570.18L1451.22 565.99L1448.7 563.02L1452.19 562.41ZM1452.15 565.3a1.6 1.6 0 1 0 3.2 0a1.6 1.6 0 1 0 -3.2 0Z" fill="#2b2b2b" stroke="#2b2b2b" stroke-width="1.2" stroke-linejoin="round"/>
<path fill-rule="evenodd" d="M1460.5 587.85L1462.06 591.66L1465.55 592.27L1463.03 595.24L1463.62 599.43L1460.5 597.45L1457.38 599.43L1457.97 595.24L1455.45 592.27L1458.94 591.66ZM1458.9 594.55a1.6 1.6 0 1 0 3.2 0a1.6 1.6 0 1 0 -3.2 0Z" fill="#2b2b2b" stroke="#2b2b2b" stroke-width="1.2" stroke-linejoin="round"/>
<circle cx="1480" cy="100.75" r="6.8" fill="none" stroke="#2b2b2b" stroke-width="2.5"/>
<path d="M1474.7 118.45L1485.3 129.05M1474.7 129.05L1485.3 118.45" stroke="#2b2b2b" stroke-width="2.6" fill="none"/>
<circle cx="1480" cy="146.25" r="5" fill="#2b2b2b"/>
<path d="M1472.2 168.75H1487.8M1480 160.95V176.55" stroke="#2b2b2b" stroke-width="2.4" fill="none"/>
<path fill-rule="evenodd" d="M1480 183.1L1482.25 188.4L1487.28 189.25L1483.64 193.38L1484.5 199.2L1480 196.45L1475.5 199.2L1476.36 193.38L1472.72 189.25L1477.75 188.4ZM1477 192.3a3 3 0 1 0 6 0a3 3 0 1 0 -6 0Z" fill="#2b2b2b" stroke="#2b2b2b" stroke-width="1.4" stroke-linejoin="round"/>
</g>
<g class="labels">
<text x="980.09" y="22.00" font-size="31" textLength="726.37" lengthAdjust="spacingAndGlyphs">11oba with dispersed citrate capped Au nanoparticles</text>
<text x="881.09" y="53.75" font-size="42" font-weight="bold" textLength="25.96" lengthAdjust="spacingAndGlyphs">n</text>
<text x="931.05" y="53.75" font-size="31.8" textLength="59.44" lengthAdjust="spacingAndGlyphs">0.25</text>
<text x="931.05" y="241.25" font-size="31.8" textLength="58.95" lengthAdjust="spacingAndGlyphs">0.20</text>
<text x="931.05" y="430.00" font-size="31.8" textLength="59.44" lengthAdjust="spacingAndGlyphs">0.15</text>
<text x="931.05" y="617.90" font-size="31.8" textLength="58.95" lengthAdjust="spacingAndGlyphs">0.10</text>
<text x="969.39" y="644.10" font-size="31.8" textLength="50.99" lengthAdjust="spacingAndGlyphs">395</text>
<text x="1140.63" y="644.10" font-size="31.8" textLength="50.01" lengthAdjust="spacingAndGlyphs">400</text>
<text x="1311.63" y="644.10" font-size="31.8" textLength="50.50" lengthAdjust="spacingAndGlyphs">405</text>
<text x="1481.63" y="644.10" font-size="31.8" textLength="50.01" lengthAdjust="spacingAndGlyphs">410</text>
<text x="1652.13" y="644.10" font-size="31.8" textLength="50.50" lengthAdjust="spacingAndGlyphs">415</text>
<text x="1227.53" y="690.00" font-size="31" textLength="221.03" lengthAdjust="spacingAndGlyphs">Temperature (K)</text>
<text x="1108.96" y="528.20" font-size="31.8" textLength="102.12" lengthAdjust="spacingAndGlyphs">635 nm</text>
<text x="-0.88" y="0.00" font-size="31.8" textLength="31.20" lengthAdjust="spacingAndGlyphs" transform="translate(904.5 318.75) rotate(-90)">δn</text>
<text x="1497.38" y="108.25" font-size="21.6" textLength="111.01" lengthAdjust="spacingAndGlyphs">11oba pure</text>
<text y="132.00" font-size="21.6"><tspan x="1497.39" textLength="109.91" lengthAdjust="spacingAndGlyphs">11oba + 30</tspan> <tspan x="1612.38" textLength="12.18" lengthAdjust="spacingAndGlyphs" font-family='"Liberation Serif", serif' font-style="italic">μ</tspan><tspan x="1624.67" textLength="6.52" lengthAdjust="spacingAndGlyphs">l</tspan></text>
<text y="155.00" font-size="21.6"><tspan x="1497.39" textLength="109.91" lengthAdjust="spacingAndGlyphs">11oba + 50</tspan> <tspan x="1612.38" textLength="12.18" lengthAdjust="spacingAndGlyphs" font-family='"Liberation Serif", serif' font-style="italic">μ</tspan><tspan x="1624.67" textLength="6.52" lengthAdjust="spacingAndGlyphs">l</tspan></text>
<text y="178.00" font-size="21.6"><tspan x="1497.39" textLength="109.91" lengthAdjust="spacingAndGlyphs">11oba + 70</tspan> <tspan x="1612.38" textLength="12.18" lengthAdjust="spacingAndGlyphs" font-family='"Liberation Serif", serif' font-style="italic">μ</tspan><tspan x="1624.67" textLength="6.52" lengthAdjust="spacingAndGlyphs">l</tspan></text>
<text y="201.25" font-size="21.6"><tspan x="1497.39" textLength="109.91" lengthAdjust="spacingAndGlyphs">11oba + 90</tspan> <tspan x="1612.38" textLength="12.18" lengthAdjust="spacingAndGlyphs" font-family='"Liberation Serif", serif' font-style="italic">μ</tspan><tspan x="1624.67" textLength="6.52" lengthAdjust="spacingAndGlyphs">l</tspan></text>
</g>
</g>
<g id="panel-o" aria-label="12oba with dispersed citrate capped Au nanoparticles — 460 nm">
<g class="plot">
<path d="M296.5 822.85v15M296.5 1355.55v-15M470.9 822.85v15M470.9 1355.55v-15M645.5 822.85v15M645.5 1355.55v-15M124.35 928.5h15M818.15 928.5h-15M124.35 1036h15M818.15 1036h-15M124.35 1143.2h15M818.15 1143.2h-15M124.35 1250.4h15M818.15 1250.4h-15" stroke="#404040" stroke-width="1.9" fill="none"/>
<rect x="122.5" y="821" width="697.5" height="536.4" fill="none" stroke="#404040" stroke-width="3.7"/>
<circle cx="401" cy="1029" r="3.2" fill="none" stroke="#404040" stroke-width="2.1"/>
<circle cx="436" cy="1029" r="3.2" fill="none" stroke="#404040" stroke-width="2.1"/>
<circle cx="470.75" cy="1035" r="3.2" fill="none" stroke="#404040" stroke-width="2.1"/>
<circle cx="488.25" cy="1040.75" r="3.2" fill="none" stroke="#404040" stroke-width="2.1"/>
<circle cx="505.5" cy="1046.5" r="3.2" fill="none" stroke="#404040" stroke-width="2.1"/>
<circle cx="523" cy="1052.5" r="3.2" fill="none" stroke="#404040" stroke-width="2.1"/>
<circle cx="540.5" cy="1059" r="3.2" fill="none" stroke="#404040" stroke-width="2.1"/>
<circle cx="558" cy="1065" r="3.2" fill="none" stroke="#404040" stroke-width="2.1"/>
<circle cx="575.75" cy="1071" r="3.2" fill="none" stroke="#404040" stroke-width="2.1"/>
<circle cx="593" cy="1077" r="3.2" fill="none" stroke="#404040" stroke-width="2.1"/>
<circle cx="610.5" cy="1083" r="3.2" fill="none" stroke="#404040" stroke-width="2.1"/>
<circle cx="624.5" cy="1094.75" r="3.2" fill="none" stroke="#404040" stroke-width="2.1"/>
<circle cx="638.5" cy="1107" r="3.2" fill="none" stroke="#404040" stroke-width="2.1"/>
<circle cx="652.5" cy="1119" r="3.2" fill="none" stroke="#404040" stroke-width="2.1"/>
<circle cx="662.75" cy="1137" r="3.2" fill="none" stroke="#404040" stroke-width="2.1"/>
<circle cx="673.25" cy="1155" r="3.2" fill="none" stroke="#404040" stroke-width="2.1"/>
<circle cx="683.75" cy="1179.25" r="3.2" fill="none" stroke="#404040" stroke-width="2.1"/>
<circle cx="690.75" cy="1203" r="3.2" fill="none" stroke="#404040" stroke-width="2.1"/>
<circle cx="697.75" cy="1227.25" r="3.2" fill="none" stroke="#404040" stroke-width="2.1"/>
<circle cx="704.75" cy="1251.25" r="3.2" fill="none" stroke="#404040" stroke-width="2.1"/>
<path d="M401 982.14L404 987.94H398Z" stroke="#404040" stroke-width="2.2" fill="none" stroke-linejoin="miter"/>
<path d="M436 982.14L439 987.94H433Z" stroke="#404040" stroke-width="2.2" fill="none" stroke-linejoin="miter"/>
<path d="M470 990.39L473 996.19H467Z" stroke="#404040" stroke-width="2.2" fill="none" stroke-linejoin="miter"/>
<path d="M488 998.14L491 1003.94H485Z" stroke="#404040" stroke-width="2.2" fill="none" stroke-linejoin="miter"/>
<path d="M505.5 1006.14L508.5 1011.94H502.5Z" stroke="#404040" stroke-width="2.2" fill="none" stroke-linejoin="miter"/>
<path d="M523 1013.89L526 1019.69H520Z" stroke="#404040" stroke-width="2.2" fill="none" stroke-linejoin="miter"/>
<path d="M540.5 1021.64L543.5 1027.44H537.5Z" stroke="#404040" stroke-width="2.2" fill="none" stroke-linejoin="miter"/>
<path d="M558 1030.14L561 1035.94H555Z" stroke="#404040" stroke-width="2.2" fill="none" stroke-linejoin="miter"/>
<path d="M575.5 1037.89L578.5 1043.69H572.5Z" stroke="#404040" stroke-width="2.2" fill="none" stroke-linejoin="miter"/>
<path d="M593 1045.64L596 1051.44H590Z" stroke="#404040" stroke-width="2.2" fill="none" stroke-linejoin="miter"/>
<path d="M607 1053.64L610 1059.44H604Z" stroke="#404040" stroke-width="2.2" fill="none" stroke-linejoin="miter"/>
<path d="M621 1069.39L624 1075.19H618Z" stroke="#404040" stroke-width="2.2" fill="none" stroke-linejoin="miter"/>
<path d="M635 1085.39L638 1091.19H632Z" stroke="#404040" stroke-width="2.2" fill="none" stroke-linejoin="miter"/>
<path d="M649 1101.14L652 1106.94H646Z" stroke="#404040" stroke-width="2.2" fill="none" stroke-linejoin="miter"/>
<path d="M663 1117.14L666 1122.94H660Z" stroke="#404040" stroke-width="2.2" fill="none" stroke-linejoin="miter"/>
<path d="M670 1148.64L673 1154.44H667Z" stroke="#404040" stroke-width="2.2" fill="none" stroke-linejoin="miter"/>
<path d="M676.75 1180.64L679.75 1186.44H673.75Z" stroke="#404040" stroke-width="2.2" fill="none" stroke-linejoin="miter"/>
<path d="M683.75 1212.14L686.75 1217.94H680.75Z" stroke="#404040" stroke-width="2.2" fill="none" stroke-linejoin="miter"/>
<path d="M690.75 1243.89L693.75 1249.69H687.75Z" stroke="#404040" stroke-width="2.2" fill="none" stroke-linejoin="miter"/>
<path d="M326.75 955H335.75M331.25 950.5V959.5" stroke="#404040" stroke-width="2.1" fill="none"/>
<path d="M361.75 955H370.75M366.25 950.5V959.5" stroke="#404040" stroke-width="2.1" fill="none"/>
<path d="M396.5 961.75H405.5M401 957.25V966.25" stroke="#404040" stroke-width="2.1" fill="none"/>
<path d="M431.5 967.75H440.5M436 963.25V972.25" stroke="#404040" stroke-width="2.1" fill="none"/>
<path d="M448.75 980.75H457.75M453.25 976.25V985.25" stroke="#404040" stroke-width="2.1" fill="none"/>
<path d="M466.25 993H475.25M470.75 988.5V997.5" stroke="#404040" stroke-width="2.1" fill="none"/>
<path d="M483.5 1005H492.5M488 1000.5V1009.5" stroke="#404040" stroke-width="2.1" fill="none"/>
<path d="M501.1 1020H510.1M505.6 1015.5V1024.5" stroke="#404040" stroke-width="2.1" fill="none"/>
<path d="M518.75 1032H527.75M523.25 1027.5V1036.5" stroke="#404040" stroke-width="2.1" fill="none"/>
<path d="M536 1044.75H545M540.5 1040.25V1049.25" stroke="#404040" stroke-width="2.1" fill="none"/>
<path d="M553.5 1057.5H562.5M558 1053V1062" stroke="#404040" stroke-width="2.1" fill="none"/>
<path d="M581.5 1089.75H590.5M586 1085.25V1094.25" stroke="#404040" stroke-width="2.1" fill="none"/>
<path d="M595.5 1108.75H604.5M600 1104.25V1113.25" stroke="#404040" stroke-width="2.1" fill="none"/>
<path d="M606 1134.5H615M610.5 1130V1139" stroke="#404040" stroke-width="2.1" fill="none"/>
<path d="M616.5 1160H625.5M621 1155.5V1164.5" stroke="#404040" stroke-width="2.1" fill="none"/>
<path d="M627 1185.25H636M631.5 1180.75V1189.75" stroke="#404040" stroke-width="2.1" fill="none"/>
<path d="M634 1211.5H643M638.5 1207V1216" stroke="#404040" stroke-width="2.1" fill="none"/>
<path d="M641 1243H650M645.5 1238.5V1247.5" stroke="#404040" stroke-width="2.1" fill="none"/>
<path d="M648 1275.25H657M652.5 1270.75V1279.75" stroke="#404040" stroke-width="2.1" fill="none"/>
<circle cx="331.25" cy="916.25" r="2.8" fill="#404040"/>
<circle cx="366.25" cy="923.5" r="2.8" fill="#404040"/>
<circle cx="401" cy="931" r="2.8" fill="#404040"/>
<circle cx="436.25" cy="945.75" r="2.8" fill="#404040"/>
<circle cx="470.75" cy="960.5" r="2.8" fill="#404040"/>
<circle cx="488.25" cy="975.5" r="2.8" fill="#404040"/>
<circle cx="512.5" cy="990.25" r="2.8" fill="#404040"/>
<circle cx="530" cy="1005.25" r="2.8" fill="#404040"/>
<circle cx="543.75" cy="1020.5" r="2.8" fill="#404040"/>
<circle cx="554.5" cy="1034.5" r="2.8" fill="#404040"/>
<circle cx="568.75" cy="1057.75" r="2.8" fill="#404040"/>
<circle cx="589.5" cy="1117" r="2.8" fill="#404040"/>
<circle cx="600" cy="1147" r="2.8" fill="#404040"/>
<circle cx="610.5" cy="1177" r="2.8" fill="#404040"/>
<circle cx="624.5" cy="1213.75" r="2.8" fill="#404040"/>
<circle cx="635" cy="1250.75" r="2.8" fill="#404040"/>
<circle cx="470" cy="994.5" r="2.8" fill="#404040"/>
<circle cx="505.5" cy="1022" r="2.8" fill="#404040"/>
<path d="M237.5 857.6L240 862L237.5 866.4L235 862Z" stroke="#404040" stroke-width="2" fill="none"/>
<path d="M272.25 857.6L274.75 862L272.25 866.4L269.75 862Z" stroke="#404040" stroke-width="2" fill="none"/>
<path d="M307 864.35L309.5 868.75L307 873.15L304.5 868.75Z" stroke="#404040" stroke-width="2" fill="none"/>
<path d="M342 877.6L344.5 882L342 886.4L339.5 882Z" stroke="#404040" stroke-width="2" fill="none"/>
<path d="M359.25 890.85L361.75 895.25L359.25 899.65L356.75 895.25Z" stroke="#404040" stroke-width="2" fill="none"/>
<path d="M376.75 904.1L379.25 908.5L376.75 912.9L374.25 908.5Z" stroke="#404040" stroke-width="2" fill="none"/>
<path d="M394.25 917.35L396.75 921.75L394.25 926.15L391.75 921.75Z" stroke="#404040" stroke-width="2" fill="none"/>
<path d="M411.5 930.6L414 935L411.5 939.4L409 935Z" stroke="#404040" stroke-width="2" fill="none"/>
<path d="M429 943.85L431.5 948.25L429 952.65L426.5 948.25Z" stroke="#404040" stroke-width="2" fill="none"/>
<path d="M446.5 957.1L449 961.5L446.5 965.9L444 961.5Z" stroke="#404040" stroke-width="2" fill="none"/>
<path d="M463.75 970.6L466.25 975L463.75 979.4L461.25 975Z" stroke="#404040" stroke-width="2" fill="none"/>
<path d="M477.75 983.85L480.25 988.25L477.75 992.65L475.25 988.25Z" stroke="#404040" stroke-width="2" fill="none"/>
<path d="M491.5 997.6L494 1002L491.5 1006.4L489 1002Z" stroke="#404040" stroke-width="2" fill="none"/>
<path d="M505.5 1017.6L508 1022L505.5 1026.4L503 1022Z" stroke="#404040" stroke-width="2" fill="none"/>
<path d="M516.25 1037.6L518.75 1042L516.25 1046.4L513.75 1042Z" stroke="#404040" stroke-width="2" fill="none"/>
<path d="M530 1064.1L532.5 1068.5L530 1072.9L527.5 1068.5Z" stroke="#404040" stroke-width="2" fill="none"/>
<path d="M544 1090.6L546.5 1095L544 1099.4L541.5 1095Z" stroke="#404040" stroke-width="2" fill="none"/>
<path d="M554.75 1117.1L557.25 1121.5L554.75 1125.9L552.25 1121.5Z" stroke="#404040" stroke-width="2" fill="none"/>
<path d="M561.75 1143.85L564.25 1148.25L561.75 1152.65L559.25 1148.25Z" stroke="#404040" stroke-width="2" fill="none"/>
<path d="M568.75 1176.85L571.25 1181.25L568.75 1185.65L566.25 1181.25Z" stroke="#404040" stroke-width="2" fill="none"/>
<path d="M575.75 1210.1L578.25 1214.5L575.75 1218.9L573.25 1214.5Z" stroke="#404040" stroke-width="2" fill="none"/>
<path d="M582.75 1243.85L585.25 1248.25L582.75 1252.65L580.25 1248.25Z" stroke="#404040" stroke-width="2" fill="none"/>
<circle cx="626.3" cy="874" r="7" fill="none" stroke="#404040" stroke-width="2.6"/>
<path d="M626.3 886.84L632.8 898.84H619.8Z" stroke="#404040" stroke-width="2.5" fill="none" stroke-linejoin="miter"/>
<path d="M618.1 917.2H634.5M626.3 909V925.4" stroke="#404040" stroke-width="2.5" fill="none"/>
<circle cx="626.3" cy="939" r="5" fill="#404040"/>
<path d="M626.3 950.75L631.8 960L626.3 969.25L620.8 960Z" stroke="#404040" stroke-width="2.5" fill="none"/>
</g>
<g class="labels">
<text x="125.59" y="802.00" font-size="31" textLength="725.36" lengthAdjust="spacingAndGlyphs">12oba with dispersed citrate capped Au nanoparticles</text>
<text x="3.91" y="826.90" font-size="42" font-weight="bold" textLength="25.24" lengthAdjust="spacingAndGlyphs">o</text>
<text x="47.53" y="831.70" font-size="31.8" textLength="60.22" lengthAdjust="spacingAndGlyphs">0.18</text>
<text x="47.53" y="939.50" font-size="31.8" textLength="60.22" lengthAdjust="spacingAndGlyphs">0.16</text>
<text x="47.54" y="1047.70" font-size="31.8" textLength="59.72" lengthAdjust="spacingAndGlyphs">0.14</text>
<text x="47.53" y="1155.60" font-size="31.8" textLength="60.22" lengthAdjust="spacingAndGlyphs">0.12</text>
<text x="47.54" y="1264.20" font-size="31.8" textLength="59.72" lengthAdjust="spacingAndGlyphs">0.10</text>
<text x="47.53" y="1372.40" font-size="31.8" textLength="60.22" lengthAdjust="spacingAndGlyphs">0.08</text>
<text x="97.64" y="1395.60" font-size="31.8" textLength="50.99" lengthAdjust="spacingAndGlyphs">395</text>
<text x="272.13" y="1395.60" font-size="31.8" textLength="50.01" lengthAdjust="spacingAndGlyphs">400</text>
<text x="446.13" y="1395.60" font-size="31.8" textLength="50.50" lengthAdjust="spacingAndGlyphs">405</text>
<text x="620.13" y="1395.60" font-size="31.8" textLength="50.01" lengthAdjust="spacingAndGlyphs">410</text>
<text x="794.13" y="1395.60" font-size="31.8" textLength="50.50" lengthAdjust="spacingAndGlyphs">415</text>
<text x="360.53" y="1441.70" font-size="31" textLength="221.03" lengthAdjust="spacingAndGlyphs">Temperature (K)</text>
<text x="236.33" y="1229.60" font-size="31.8" textLength="100.02" lengthAdjust="spacingAndGlyphs">460 nm</text>
<text x="-0.91" y="0.00" font-size="31.8" textLength="32.56" lengthAdjust="spacingAndGlyphs" transform="translate(25 1097.5) rotate(-90)">δn</text>
<text x="643.14" y="883.30" font-size="21.6" textLength="109.73" lengthAdjust="spacingAndGlyphs">12oba pure</text>
<text x="643.15" y="906.40" font-size="21.6" textLength="117.73" lengthAdjust="spacingAndGlyphs">12oba mix 1</text>
<text x="643.14" y="926.00" font-size="21.6" textLength="118.24" lengthAdjust="spacingAndGlyphs">12oba mix 2</text>
<text x="643.14" y="948.00" font-size="21.6" textLength="118.24" lengthAdjust="spacingAndGlyphs">12oba mix 3</text>
<text x="643.15" y="968.40" font-size="21.6" textLength="117.89" lengthAdjust="spacingAndGlyphs">12oba mix 4</text>
</g>
</g>
<g id="panel-p" aria-label="12oba with dispersed citrate capped Au nanoparticles — 500 nm">
<g class="plot">
<path d="M1182 857.1v15M1182 1362.1v-15M1347.5 857.1v15M1347.5 1362.1v-15M1513 857.1v15M1513 1362.1v-15M1017.7 957h15M1677.3 957h-15M1017.7 1058.25h15M1677.3 1058.25h-15M1017.7 1160h15M1677.3 1160h-15M1017.7 1261.75h15M1677.3 1261.75h-15" stroke="#555" stroke-width="1.9" fill="none"/>
<rect x="1016" y="855.4" width="663" height="508.4" fill="none" stroke="#555" stroke-width="3.4"/>
<circle cx="1280.75" cy="1063.25" r="3.1" fill="none" stroke="#555" stroke-width="1.9"/>
<circle cx="1314.25" cy="1063.25" r="3.1" fill="none" stroke="#555" stroke-width="1.9"/>
<circle cx="1347" cy="1069.25" r="3.1" fill="none" stroke="#555" stroke-width="1.9"/>
<circle cx="1363.75" cy="1074.75" r="3.1" fill="none" stroke="#555" stroke-width="1.9"/>
<circle cx="1380.5" cy="1080.5" r="3.1" fill="none" stroke="#555" stroke-width="1.9"/>
<circle cx="1397" cy="1086.25" r="3.1" fill="none" stroke="#555" stroke-width="1.9"/>
<circle cx="1413.25" cy="1092" r="3.1" fill="none" stroke="#555" stroke-width="1.9"/>
<circle cx="1429.75" cy="1097.5" r="3.1" fill="none" stroke="#555" stroke-width="1.9"/>
<circle cx="1446.5" cy="1103.25" r="3.1" fill="none" stroke="#555" stroke-width="1.9"/>
<circle cx="1463" cy="1109" r="3.1" fill="none" stroke="#555" stroke-width="1.9"/>
<circle cx="1479.75" cy="1114.75" r="3.1" fill="none" stroke="#555" stroke-width="1.9"/>
<circle cx="1493" cy="1126" r="3.1" fill="none" stroke="#555" stroke-width="1.9"/>
<circle cx="1506.25" cy="1137.5" r="3.1" fill="none" stroke="#555" stroke-width="1.9"/>
<circle cx="1519.5" cy="1148.75" r="3.1" fill="none" stroke="#555" stroke-width="1.9"/>
<circle cx="1529.5" cy="1166" r="3.1" fill="none" stroke="#555" stroke-width="1.9"/>
<circle cx="1539.25" cy="1182.5" r="3.1" fill="none" stroke="#555" stroke-width="1.9"/>
<circle cx="1549.25" cy="1205.75" r="3.1" fill="none" stroke="#555" stroke-width="1.9"/>
<circle cx="1555.75" cy="1228.75" r="3.1" fill="none" stroke="#555" stroke-width="1.9"/>
<circle cx="1562.5" cy="1251.5" r="3.1" fill="none" stroke="#555" stroke-width="1.9"/>
<circle cx="1569" cy="1274.25" r="3.1" fill="none" stroke="#555" stroke-width="1.9"/>
<path d="M1280.75 1023L1283.65 1028.6H1277.85Z" stroke="#555" stroke-width="2.1" fill="none" stroke-linejoin="miter"/>
<path d="M1314.25 1023L1317.15 1028.6H1311.35Z" stroke="#555" stroke-width="2.1" fill="none" stroke-linejoin="miter"/>
<path d="M1347 1031L1349.9 1036.6H1344.1Z" stroke="#555" stroke-width="2.1" fill="none" stroke-linejoin="miter"/>
<path d="M1363.75 1038L1366.65 1043.6H1360.85Z" stroke="#555" stroke-width="2.1" fill="none" stroke-linejoin="miter"/>
<path d="M1380.5 1045.5L1383.4 1051.1H1377.6Z" stroke="#555" stroke-width="2.1" fill="none" stroke-linejoin="miter"/>
<path d="M1397 1053L1399.9 1058.6H1394.1Z" stroke="#555" stroke-width="2.1" fill="none" stroke-linejoin="miter"/>
<path d="M1413.25 1060.75L1416.15 1066.35H1410.35Z" stroke="#555" stroke-width="2.1" fill="none" stroke-linejoin="miter"/>
<path d="M1430 1068.25L1432.9 1073.85H1427.1Z" stroke="#555" stroke-width="2.1" fill="none" stroke-linejoin="miter"/>
<path d="M1446.5 1075.75L1449.4 1081.35H1443.6Z" stroke="#555" stroke-width="2.1" fill="none" stroke-linejoin="miter"/>
<path d="M1463 1083.25L1465.9 1088.85H1460.1Z" stroke="#555" stroke-width="2.1" fill="none" stroke-linejoin="miter"/>
<path d="M1476.5 1090.75L1479.4 1096.35H1473.6Z" stroke="#555" stroke-width="2.1" fill="none" stroke-linejoin="miter"/>
<path d="M1489.75 1105.75L1492.65 1111.35H1486.85Z" stroke="#555" stroke-width="2.1" fill="none" stroke-linejoin="miter"/>
<path d="M1503 1120.75L1505.9 1126.35H1500.1Z" stroke="#555" stroke-width="2.1" fill="none" stroke-linejoin="miter"/>
<path d="M1516.25 1135.25L1519.15 1140.85H1513.35Z" stroke="#555" stroke-width="2.1" fill="none" stroke-linejoin="miter"/>
<path d="M1529.5 1150.25L1532.4 1155.85H1526.6Z" stroke="#555" stroke-width="2.1" fill="none" stroke-linejoin="miter"/>
<path d="M1536.25 1180L1539.15 1185.6H1533.35Z" stroke="#555" stroke-width="2.1" fill="none" stroke-linejoin="miter"/>
<path d="M1542.75 1210.75L1545.65 1216.35H1539.85Z" stroke="#555" stroke-width="2.1" fill="none" stroke-linejoin="miter"/>
<path d="M1549.25 1240.5L1552.15 1246.1H1546.35Z" stroke="#555" stroke-width="2.1" fill="none" stroke-linejoin="miter"/>
<path d="M1555.75 1270.5L1558.65 1276.1H1552.85Z" stroke="#555" stroke-width="2.1" fill="none" stroke-linejoin="miter"/>
<path d="M1210.1 1000.75H1218.9M1214.5 996.35V1005.15" stroke="#555" stroke-width="1.9" fill="none"/>
<path d="M1243.35 1000.75H1252.15M1247.75 996.35V1005.15" stroke="#555" stroke-width="1.9" fill="none"/>
<path d="M1276.35 1006.5H1285.15M1280.75 1002.1V1010.9" stroke="#555" stroke-width="1.9" fill="none"/>
<path d="M1309.85 1012.5H1318.65M1314.25 1008.1V1016.9" stroke="#555" stroke-width="1.9" fill="none"/>
<path d="M1326.1 1024.5H1334.9M1330.5 1020.1V1028.9" stroke="#555" stroke-width="1.9" fill="none"/>
<path d="M1342.6 1036H1351.4M1347 1031.6V1040.4" stroke="#555" stroke-width="1.9" fill="none"/>
<path d="M1359.35 1049H1368.15M1363.75 1044.6V1053.4" stroke="#555" stroke-width="1.9" fill="none"/>
<path d="M1376.1 1061H1384.9M1380.5 1056.6V1065.4" stroke="#555" stroke-width="1.9" fill="none"/>
<path d="M1392.6 1073.5H1401.4M1397 1069.1V1077.9" stroke="#555" stroke-width="1.9" fill="none"/>
<path d="M1408.85 1085.25H1417.65M1413.25 1080.85V1089.65" stroke="#555" stroke-width="1.9" fill="none"/>
<path d="M1452.1 1128H1460.9M1456.5 1123.6V1132.4" stroke="#555" stroke-width="1.9" fill="none"/>
<path d="M1465.35 1146H1474.15M1469.75 1141.6V1150.4" stroke="#555" stroke-width="1.9" fill="none"/>
<path d="M1475.35 1170.25H1484.15M1479.75 1165.85V1174.65" stroke="#555" stroke-width="1.9" fill="none"/>
<path d="M1485.35 1194.5H1494.15M1489.75 1190.1V1198.9" stroke="#555" stroke-width="1.9" fill="none"/>
<path d="M1495.1 1218.5H1503.9M1499.5 1214.1V1222.9" stroke="#555" stroke-width="1.9" fill="none"/>
<path d="M1501.85 1243H1510.65M1506.25 1238.6V1247.4" stroke="#555" stroke-width="1.9" fill="none"/>
<path d="M1508.35 1273.25H1517.15M1512.75 1268.85V1277.65" stroke="#555" stroke-width="1.9" fill="none"/>
<path d="M1515.1 1303.75H1523.9M1519.5 1299.35V1308.15" stroke="#555" stroke-width="1.9" fill="none"/>
<circle cx="1214.5" cy="959.5" r="2.65" fill="#555"/>
<circle cx="1247.75" cy="966.5" r="2.65" fill="#555"/>
<circle cx="1280.75" cy="973.5" r="2.65" fill="#555"/>
<circle cx="1314.25" cy="987.75" r="2.65" fill="#555"/>
<circle cx="1347" cy="1001.75" r="2.65" fill="#555"/>
<circle cx="1363.75" cy="1015.75" r="2.65" fill="#555"/>
<circle cx="1386.75" cy="1029.75" r="2.65" fill="#555"/>
<circle cx="1403.25" cy="1044" r="2.65" fill="#555"/>
<circle cx="1416.75" cy="1058" r="2.65" fill="#555"/>
<circle cx="1427" cy="1072" r="2.65" fill="#555"/>
<circle cx="1440" cy="1093.5" r="2.65" fill="#555"/>
<circle cx="1460" cy="1149.75" r="2.65" fill="#555"/>
<circle cx="1470" cy="1178" r="2.65" fill="#555"/>
<circle cx="1479.75" cy="1206.25" r="2.65" fill="#555"/>
<circle cx="1492.75" cy="1241.75" r="2.65" fill="#555"/>
<circle cx="1502.75" cy="1277" r="2.65" fill="#555"/>
<circle cx="1380.5" cy="1058" r="2.65" fill="#555"/>
<circle cx="1429.75" cy="1097.5" r="4.1" fill="#555"/>
<path d="M1125.25 901.95L1127.75 906.25L1125.25 910.55L1122.75 906.25Z" stroke="#555" stroke-width="1.9" fill="none"/>
<path d="M1158.25 901.95L1160.75 906.25L1158.25 910.55L1155.75 906.25Z" stroke="#555" stroke-width="1.9" fill="none"/>
<path d="M1191.5 908.45L1194 912.75L1191.5 917.05L1189 912.75Z" stroke="#555" stroke-width="1.9" fill="none"/>
<path d="M1224.75 921.2L1227.25 925.5L1224.75 929.8L1222.25 925.5Z" stroke="#555" stroke-width="1.9" fill="none"/>
<path d="M1241.25 933.45L1243.75 937.75L1241.25 942.05L1238.75 937.75Z" stroke="#555" stroke-width="1.9" fill="none"/>
<path d="M1257.75 945.95L1260.25 950.25L1257.75 954.55L1255.25 950.25Z" stroke="#555" stroke-width="1.9" fill="none"/>
<path d="M1274.5 958.45L1277 962.75L1274.5 967.05L1272 962.75Z" stroke="#555" stroke-width="1.9" fill="none"/>
<path d="M1291 971.2L1293.5 975.5L1291 979.8L1288.5 975.5Z" stroke="#555" stroke-width="1.9" fill="none"/>
<path d="M1307.25 983.7L1309.75 988L1307.25 992.3L1304.75 988Z" stroke="#555" stroke-width="1.9" fill="none"/>
<path d="M1324 996.7L1326.5 1001L1324 1005.3L1321.5 1001Z" stroke="#555" stroke-width="1.9" fill="none"/>
<path d="M1340.5 1009.2L1343 1013.5L1340.5 1017.8L1338 1013.5Z" stroke="#555" stroke-width="1.9" fill="none"/>
<path d="M1353.75 1021.95L1356.25 1026.25L1353.75 1030.55L1351.25 1026.25Z" stroke="#555" stroke-width="1.9" fill="none"/>
<path d="M1367 1034.2L1369.5 1038.5L1367 1042.8L1364.5 1038.5Z" stroke="#555" stroke-width="1.9" fill="none"/>
<path d="M1380.5 1053.7L1383 1058L1380.5 1062.3L1378 1058Z" stroke="#555" stroke-width="1.9" fill="none"/>
<path d="M1390 1072.2L1392.5 1076.5L1390 1080.8L1387.5 1076.5Z" stroke="#555" stroke-width="1.9" fill="none"/>
<path d="M1403.5 1097.45L1406 1101.75L1403.5 1106.05L1401 1101.75Z" stroke="#555" stroke-width="1.9" fill="none"/>
<path d="M1416.75 1122.7L1419.25 1127L1416.75 1131.3L1414.25 1127Z" stroke="#555" stroke-width="1.9" fill="none"/>
<path d="M1426.75 1147.95L1429.25 1152.25L1426.75 1156.55L1424.25 1152.25Z" stroke="#555" stroke-width="1.9" fill="none"/>
<path d="M1433.25 1173.2L1435.75 1177.5L1433.25 1181.8L1430.75 1177.5Z" stroke="#555" stroke-width="1.9" fill="none"/>
<path d="M1440 1204.45L1442.5 1208.75L1440 1213.05L1437.5 1208.75Z" stroke="#555" stroke-width="1.9" fill="none"/>
<path d="M1446.75 1236.45L1449.25 1240.75L1446.75 1245.05L1444.25 1240.75Z" stroke="#555" stroke-width="1.9" fill="none"/>
<path d="M1453.25 1268.2L1455.75 1272.5L1453.25 1276.8L1450.75 1272.5Z" stroke="#555" stroke-width="1.9" fill="none"/>
<circle cx="1494.7" cy="905.2" r="6.3" fill="none" stroke="#555" stroke-width="2.2"/>
<path d="M1494.7 918.6L1500.2 928.6H1489.2Z" stroke="#555" stroke-width="2.2" fill="none" stroke-linejoin="miter"/>
<path d="M1487.4 946.5H1502M1494.7 939.2V953.8" stroke="#555" stroke-width="2.1" fill="none"/>
<circle cx="1494.7" cy="966.5" r="4.7" fill="#555"/>
<path d="M1494.7 979.25L1499.95 987.5L1494.7 995.75L1489.45 987.5Z" stroke="#555" stroke-width="2.1" fill="none"/>
</g>
<g class="labels">
<text x="1012.29" y="826.60" font-size="31" textLength="724.26" lengthAdjust="spacingAndGlyphs">12oba with dispersed citrate capped Au nanoparticles</text>
<text x="901.27" y="825.00" font-size="40.5" font-weight="bold" textLength="26.65" lengthAdjust="spacingAndGlyphs">p</text>
<text x="946.04" y="866.50" font-size="31.8" textLength="59.91" lengthAdjust="spacingAndGlyphs">0.18</text>
<text x="946.04" y="967.50" font-size="31.8" textLength="59.91" lengthAdjust="spacingAndGlyphs">0.16</text>
<text x="946.05" y="1069.00" font-size="31.8" textLength="59.41" lengthAdjust="spacingAndGlyphs">0.14</text>
<text x="946.04" y="1170.50" font-size="31.8" textLength="59.91" lengthAdjust="spacingAndGlyphs">0.12</text>
<text x="946.05" y="1271.00" font-size="31.8" textLength="59.41" lengthAdjust="spacingAndGlyphs">0.10</text>
<text x="946.04" y="1372.00" font-size="31.8" textLength="59.91" lengthAdjust="spacingAndGlyphs">0.08</text>
<text x="992.64" y="1395.40" font-size="31.8" textLength="50.99" lengthAdjust="spacingAndGlyphs">395</text>
<text x="1158.13" y="1395.40" font-size="31.8" textLength="50.01" lengthAdjust="spacingAndGlyphs">400</text>
<text x="1322.63" y="1395.40" font-size="31.8" textLength="50.50" lengthAdjust="spacingAndGlyphs">405</text>
<text x="1487.63" y="1395.40" font-size="31.8" textLength="50.01" lengthAdjust="spacingAndGlyphs">410</text>
<text x="1652.13" y="1395.40" font-size="31.8" textLength="50.50" lengthAdjust="spacingAndGlyphs">415</text>
<text x="1256.03" y="1442.40" font-size="31" textLength="221.03" lengthAdjust="spacingAndGlyphs">Temperature (K)</text>
<text x="1163.54" y="1243.20" font-size="31.8" textLength="102.04" lengthAdjust="spacingAndGlyphs">500 nm</text>
<text x="-0.91" y="0.00" font-size="31.8" textLength="32.56" lengthAdjust="spacingAndGlyphs" transform="translate(924 1096) rotate(-90)">δn</text>
<text x="1509.14" y="910.30" font-size="21.6" textLength="109.73" lengthAdjust="spacingAndGlyphs">12oba pure</text>
<text x="1509.15" y="933.50" font-size="21.6" textLength="117.73" lengthAdjust="spacingAndGlyphs">12oba mix 1</text>
<text x="1509.14" y="952.80" font-size="21.6" textLength="118.24" lengthAdjust="spacingAndGlyphs">12oba mix 2</text>
<text x="1509.14" y="974.40" font-size="21.6" textLength="118.24" lengthAdjust="spacingAndGlyphs">12oba mix 3</text>
<text x="1509.15" y="996.60" font-size="21.6" textLength="117.89" lengthAdjust="spacingAndGlyphs">12oba mix 4</text>
</g>
</g>
<g id="panel-q" aria-label="12oba with dispersed citrate capped Au nanoparticles — 570 nm">
<g class="plot">
<path d="M299 1593.9v15M299 2117.9v-15M470.75 1593.9v15M470.75 2117.9v-15M643.2 1593.9v15M643.2 2117.9v-15M128.2 1697h15M814.3 1697h-15M128.2 1803h15M814.3 1803h-15M128.2 1908.3h15M814.3 1908.3h-15M128.2 2014h15M814.3 2014h-15" stroke="#555" stroke-width="1.9" fill="none"/>
<rect x="126.5" y="1592.2" width="689.5" height="527.4" fill="none" stroke="#555" stroke-width="3.4"/>
<circle cx="401.75" cy="1819.75" r="3.1" fill="none" stroke="#555" stroke-width="1.9"/>
<circle cx="436.25" cy="1819.75" r="3.1" fill="none" stroke="#555" stroke-width="1.9"/>
<circle cx="470.75" cy="1825.5" r="3.1" fill="none" stroke="#555" stroke-width="1.9"/>
<circle cx="488" cy="1831.25" r="3.1" fill="none" stroke="#555" stroke-width="1.9"/>
<circle cx="505.25" cy="1837.5" r="3.1" fill="none" stroke="#555" stroke-width="1.9"/>
<circle cx="522.5" cy="1843.25" r="3.1" fill="none" stroke="#555" stroke-width="1.9"/>
<circle cx="539.5" cy="1849.5" r="3.1" fill="none" stroke="#555" stroke-width="1.9"/>
<circle cx="556.5" cy="1855.25" r="3.1" fill="none" stroke="#555" stroke-width="1.9"/>
<circle cx="574" cy="1861" r="3.1" fill="none" stroke="#555" stroke-width="1.9"/>
<circle cx="591" cy="1866.75" r="3.1" fill="none" stroke="#555" stroke-width="1.9"/>
<circle cx="608.5" cy="1873" r="3.1" fill="none" stroke="#555" stroke-width="1.9"/>
<circle cx="622" cy="1884.75" r="3.1" fill="none" stroke="#555" stroke-width="1.9"/>
<circle cx="636" cy="1896.75" r="3.1" fill="none" stroke="#555" stroke-width="1.9"/>
<circle cx="649.75" cy="1908.5" r="3.1" fill="none" stroke="#555" stroke-width="1.9"/>
<circle cx="660.25" cy="1926" r="3.1" fill="none" stroke="#555" stroke-width="1.9"/>
<circle cx="670.5" cy="1944" r="3.1" fill="none" stroke="#555" stroke-width="1.9"/>
<circle cx="681" cy="1968" r="3.1" fill="none" stroke="#555" stroke-width="1.9"/>
<circle cx="687.75" cy="1991.5" r="3.1" fill="none" stroke="#555" stroke-width="1.9"/>
<circle cx="694.75" cy="2015" r="3.1" fill="none" stroke="#555" stroke-width="1.9"/>
<circle cx="701.75" cy="2038.75" r="3.1" fill="none" stroke="#555" stroke-width="1.9"/>
<path d="M401.75 1789.75L404.65 1795.35H398.85Z" stroke="#555" stroke-width="2.1" fill="none" stroke-linejoin="miter"/>
<path d="M436.25 1789.75L439.15 1795.35H433.35Z" stroke="#555" stroke-width="2.1" fill="none" stroke-linejoin="miter"/>
<path d="M470.75 1797.5L473.65 1803.1H467.85Z" stroke="#555" stroke-width="2.1" fill="none" stroke-linejoin="miter"/>
<path d="M488 1805.25L490.9 1810.85H485.1Z" stroke="#555" stroke-width="2.1" fill="none" stroke-linejoin="miter"/>
<path d="M505.25 1812.75L508.15 1818.35H502.35Z" stroke="#555" stroke-width="2.1" fill="none" stroke-linejoin="miter"/>
<path d="M522.5 1820.5L525.4 1826.1H519.6Z" stroke="#555" stroke-width="2.1" fill="none" stroke-linejoin="miter"/>
<path d="M539.5 1828.25L542.4 1833.85H536.6Z" stroke="#555" stroke-width="2.1" fill="none" stroke-linejoin="miter"/>
<path d="M556.5 1836.25L559.4 1841.85H553.6Z" stroke="#555" stroke-width="2.1" fill="none" stroke-linejoin="miter"/>
<path d="M574 1843.75L576.9 1849.35H571.1Z" stroke="#555" stroke-width="2.1" fill="none" stroke-linejoin="miter"/>
<path d="M591 1851.75L593.9 1857.35H588.1Z" stroke="#555" stroke-width="2.1" fill="none" stroke-linejoin="miter"/>
<path d="M604.75 1859.75L607.65 1865.35H601.85Z" stroke="#555" stroke-width="2.1" fill="none" stroke-linejoin="miter"/>
<path d="M618.75 1875.25L621.65 1880.85H615.85Z" stroke="#555" stroke-width="2.1" fill="none" stroke-linejoin="miter"/>
<path d="M632.5 1891.25L635.4 1896.85H629.6Z" stroke="#555" stroke-width="2.1" fill="none" stroke-linejoin="miter"/>
<path d="M646.5 1906.75L649.4 1912.35H643.6Z" stroke="#555" stroke-width="2.1" fill="none" stroke-linejoin="miter"/>
<path d="M660.25 1922.75L663.15 1928.35H657.35Z" stroke="#555" stroke-width="2.1" fill="none" stroke-linejoin="miter"/>
<path d="M667 1953.5L669.9 1959.1H664.1Z" stroke="#555" stroke-width="2.1" fill="none" stroke-linejoin="miter"/>
<path d="M674 1984.75L676.9 1990.35H671.1Z" stroke="#555" stroke-width="2.1" fill="none" stroke-linejoin="miter"/>
<path d="M681 2015.75L683.9 2021.35H678.1Z" stroke="#555" stroke-width="2.1" fill="none" stroke-linejoin="miter"/>
<path d="M687.75 2046.75L690.65 2052.35H684.85Z" stroke="#555" stroke-width="2.1" fill="none" stroke-linejoin="miter"/>
<path d="M328.35 1774H337.15M332.75 1769.6V1778.4" stroke="#555" stroke-width="1.9" fill="none"/>
<path d="M362.85 1774H371.65M367.25 1769.6V1778.4" stroke="#555" stroke-width="1.9" fill="none"/>
<path d="M397.35 1780.25H406.15M401.75 1775.85V1784.65" stroke="#555" stroke-width="1.9" fill="none"/>
<path d="M431.85 1786.75H440.65M436.25 1782.35V1791.15" stroke="#555" stroke-width="1.9" fill="none"/>
<path d="M449.1 1799.5H457.9M453.5 1795.1V1803.9" stroke="#555" stroke-width="1.9" fill="none"/>
<path d="M466.35 1811.75H475.15M470.75 1807.35V1816.15" stroke="#555" stroke-width="1.9" fill="none"/>
<path d="M483.6 1823.75H492.4M488 1819.35V1828.15" stroke="#555" stroke-width="1.9" fill="none"/>
<path d="M500.85 1836.5H509.65M505.25 1832.1V1840.9" stroke="#555" stroke-width="1.9" fill="none"/>
<path d="M518.1 1849.75H526.9M522.5 1845.35V1854.15" stroke="#555" stroke-width="1.9" fill="none"/>
<path d="M535.1 1862.25H543.9M539.5 1857.85V1866.65" stroke="#555" stroke-width="1.9" fill="none"/>
<path d="M552.1 1874.75H560.9M556.5 1870.35V1879.15" stroke="#555" stroke-width="1.9" fill="none"/>
<path d="M579.85 1906.25H588.65M584.25 1901.85V1910.65" stroke="#555" stroke-width="1.9" fill="none"/>
<path d="M593.6 1925.25H602.4M598 1920.85V1929.65" stroke="#555" stroke-width="1.9" fill="none"/>
<path d="M604.1 1950.5H612.9M608.5 1946.1V1954.9" stroke="#555" stroke-width="1.9" fill="none"/>
<path d="M614.35 1975.75H623.15M618.75 1971.35V1980.15" stroke="#555" stroke-width="1.9" fill="none"/>
<path d="M624.6 2000.5H633.4M629 1996.1V2004.9" stroke="#555" stroke-width="1.9" fill="none"/>
<path d="M631.6 2025.75H640.4M636 2021.35V2030.15" stroke="#555" stroke-width="1.9" fill="none"/>
<path d="M638.6 2057.5H647.4M643 2053.1V2061.9" stroke="#555" stroke-width="1.9" fill="none"/>
<path d="M645.35 2089H654.15M649.75 2084.6V2093.4" stroke="#555" stroke-width="1.9" fill="none"/>
<circle cx="332.75" cy="1714.5" r="2.65" fill="#555"/>
<circle cx="367.25" cy="1722" r="2.65" fill="#555"/>
<circle cx="401.75" cy="1729.5" r="2.65" fill="#555"/>
<circle cx="436.25" cy="1744" r="2.65" fill="#555"/>
<circle cx="470.75" cy="1758.75" r="2.65" fill="#555"/>
<circle cx="488" cy="1773.25" r="2.65" fill="#555"/>
<circle cx="512" cy="1787.75" r="2.65" fill="#555"/>
<circle cx="529.25" cy="1802.5" r="2.65" fill="#555"/>
<circle cx="542.75" cy="1817" r="2.65" fill="#555"/>
<circle cx="553.25" cy="1831.5" r="2.65" fill="#555"/>
<circle cx="567.25" cy="1853.25" r="2.65" fill="#555"/>
<circle cx="587.75" cy="1912.5" r="2.65" fill="#555"/>
<circle cx="598" cy="1941.75" r="2.65" fill="#555"/>
<circle cx="608.5" cy="1970.75" r="2.65" fill="#555"/>
<circle cx="622" cy="2007.25" r="2.65" fill="#555"/>
<circle cx="632.75" cy="2044.25" r="2.65" fill="#555"/>
<circle cx="505.25" cy="1837.5" r="4.1" fill="#555"/>
<circle cx="660.25" cy="1926" r="4.1" fill="#555"/>
<path d="M240 1659.95L242.5 1664.25L240 1668.55L237.5 1664.25Z" stroke="#555" stroke-width="1.9" fill="none"/>
<path d="M274.5 1659.95L277 1664.25L274.5 1668.55L272 1664.25Z" stroke="#555" stroke-width="1.9" fill="none"/>
<path d="M309 1672.95L311.5 1677.25L309 1681.55L306.5 1677.25Z" stroke="#555" stroke-width="1.9" fill="none"/>
<path d="M343.25 1686.2L345.75 1690.5L343.25 1694.8L340.75 1690.5Z" stroke="#555" stroke-width="1.9" fill="none"/>
<path d="M360.5 1699.45L363 1703.75L360.5 1708.05L358 1703.75Z" stroke="#555" stroke-width="1.9" fill="none"/>
<path d="M377.75 1712.7L380.25 1717L377.75 1721.3L375.25 1717Z" stroke="#555" stroke-width="1.9" fill="none"/>
<path d="M394.75 1725.7L397.25 1730L394.75 1734.3L392.25 1730Z" stroke="#555" stroke-width="1.9" fill="none"/>
<path d="M412.25 1738.95L414.75 1743.25L412.25 1747.55L409.75 1743.25Z" stroke="#555" stroke-width="1.9" fill="none"/>
<path d="M429.25 1751.95L431.75 1756.25L429.25 1760.55L426.75 1756.25Z" stroke="#555" stroke-width="1.9" fill="none"/>
<path d="M446.75 1764.95L449.25 1769.25L446.75 1773.55L444.25 1769.25Z" stroke="#555" stroke-width="1.9" fill="none"/>
<path d="M463.75 1777.95L466.25 1782.25L463.75 1786.55L461.25 1782.25Z" stroke="#555" stroke-width="1.9" fill="none"/>
<path d="M477.5 1790.95L480 1795.25L477.5 1799.55L475 1795.25Z" stroke="#555" stroke-width="1.9" fill="none"/>
<path d="M491.25 1804.2L493.75 1808.5L491.25 1812.8L488.75 1808.5Z" stroke="#555" stroke-width="1.9" fill="none"/>
<path d="M505.25 1823.95L507.75 1828.25L505.25 1832.55L502.75 1828.25Z" stroke="#555" stroke-width="1.9" fill="none"/>
<path d="M515.5 1843.7L518 1848L515.5 1852.3L513 1848Z" stroke="#555" stroke-width="1.9" fill="none"/>
<path d="M529.25 1869.7L531.75 1874L529.25 1878.3L526.75 1874Z" stroke="#555" stroke-width="1.9" fill="none"/>
<path d="M542.75 1895.95L545.25 1900.25L542.75 1904.55L540.25 1900.25Z" stroke="#555" stroke-width="1.9" fill="none"/>
<path d="M553.25 1922.2L555.75 1926.5L553.25 1930.8L550.75 1926.5Z" stroke="#555" stroke-width="1.9" fill="none"/>
<path d="M560.25 1948.45L562.75 1952.75L560.25 1957.05L557.75 1952.75Z" stroke="#555" stroke-width="1.9" fill="none"/>
<path d="M567.25 1980.95L569.75 1985.25L567.25 1989.55L564.75 1985.25Z" stroke="#555" stroke-width="1.9" fill="none"/>
<path d="M574 2013.95L576.5 2018.25L574 2022.55L571.5 2018.25Z" stroke="#555" stroke-width="1.9" fill="none"/>
<path d="M580.75 2046.7L583.25 2051L580.75 2055.3L578.25 2051Z" stroke="#555" stroke-width="1.9" fill="none"/>
<circle cx="624.2" cy="1643.3" r="6.3" fill="none" stroke="#555" stroke-width="2.2"/>
<path d="M624.2 1657.4L629.7 1667.4H618.7Z" stroke="#555" stroke-width="2.2" fill="none" stroke-linejoin="miter"/>
<path d="M616.9 1686.2H631.5M624.2 1678.9V1693.5" stroke="#555" stroke-width="2.1" fill="none"/>
<circle cx="624.2" cy="1707.2" r="4.7" fill="#555"/>
<path d="M624.2 1720.15L629.45 1728.4L624.2 1736.65L618.95 1728.4Z" stroke="#555" stroke-width="2.1" fill="none"/>
</g>
<g class="labels">
<text x="125.59" y="1577.50" font-size="31" textLength="725.36" lengthAdjust="spacingAndGlyphs">12oba with dispersed citrate capped Au nanoparticles</text>
<text x="3.35" y="1577.50" font-size="41" font-weight="bold" textLength="26.42" lengthAdjust="spacingAndGlyphs">q</text>
<text x="53.54" y="1603.40" font-size="31.8" textLength="59.91" lengthAdjust="spacingAndGlyphs">0.18</text>
<text x="53.54" y="1708.00" font-size="31.8" textLength="59.91" lengthAdjust="spacingAndGlyphs">0.16</text>
<text x="53.55" y="1813.50" font-size="31.8" textLength="59.41" lengthAdjust="spacingAndGlyphs">0.14</text>
<text x="53.54" y="1919.00" font-size="31.8" textLength="59.91" lengthAdjust="spacingAndGlyphs">0.12</text>
<text x="53.55" y="2024.50" font-size="31.8" textLength="59.41" lengthAdjust="spacingAndGlyphs">0.10</text>
<text x="53.54" y="2129.50" font-size="31.8" textLength="59.91" lengthAdjust="spacingAndGlyphs">0.08</text>
<text x="97.64" y="2155.40" font-size="31.8" textLength="50.99" lengthAdjust="spacingAndGlyphs">395</text>
<text x="272.13" y="2155.40" font-size="31.8" textLength="50.01" lengthAdjust="spacingAndGlyphs">400</text>
<text x="446.13" y="2155.40" font-size="31.8" textLength="50.50" lengthAdjust="spacingAndGlyphs">405</text>
<text x="620.13" y="2155.40" font-size="31.8" textLength="50.01" lengthAdjust="spacingAndGlyphs">410</text>
<text x="794.13" y="2155.40" font-size="31.8" textLength="50.50" lengthAdjust="spacingAndGlyphs">415</text>
<text x="360.53" y="2202.50" font-size="31" textLength="221.03" lengthAdjust="spacingAndGlyphs">Temperature (K)</text>
<text x="235.05" y="1993.60" font-size="31.8" textLength="101.12" lengthAdjust="spacingAndGlyphs">570 nm</text>
<text x="-0.91" y="0.00" font-size="31.8" textLength="32.56" lengthAdjust="spacingAndGlyphs" transform="translate(25 1870.5) rotate(-90)">δn</text>
<text x="642.25" y="1650.80" font-size="21.6" textLength="109.63" lengthAdjust="spacingAndGlyphs">12oba pure</text>
<text x="642.24" y="1674.20" font-size="21.6" textLength="118.13" lengthAdjust="spacingAndGlyphs">12oba mix 1</text>
<text x="642.24" y="1693.20" font-size="21.6" textLength="118.64" lengthAdjust="spacingAndGlyphs">12oba mix 2</text>
<text x="642.24" y="1714.80" font-size="21.6" textLength="118.64" lengthAdjust="spacingAndGlyphs">12oba mix 3</text>
<text x="642.24" y="1736.80" font-size="21.6" textLength="118.30" lengthAdjust="spacingAndGlyphs">12oba mix 4</text>
</g>
</g>
<g id="panel-r" aria-label="12oba with dispersed citrate capped Au nanoparticles — 635 nm">
<g class="plot">
<path d="M1183 1611.3v15M1183 2121.1v-15M1349.75 1611.3v15M1349.75 2121.1v-15M1516.5 1611.3v15M1516.5 2121.1v-15M1018.2 1712h15M1681.3 1712h-15M1018.2 1814.5h15M1681.3 1814.5h-15M1018.2 1917h15M1681.3 1917h-15M1018.2 2019.75h15M1681.3 2019.75h-15" stroke="#555" stroke-width="1.9" fill="none"/>
<rect x="1016.5" y="1609.6" width="666.5" height="513.2" fill="none" stroke="#555" stroke-width="3.4"/>
<circle cx="1283" cy="1848.25" r="3.1" fill="none" stroke="#555" stroke-width="1.9"/>
<circle cx="1316.25" cy="1848.25" r="3.1" fill="none" stroke="#555" stroke-width="1.9"/>
<circle cx="1349.5" cy="1854.25" r="3.1" fill="none" stroke="#555" stroke-width="1.9"/>
<circle cx="1366.25" cy="1859.75" r="3.1" fill="none" stroke="#555" stroke-width="1.9"/>
<circle cx="1383" cy="1865.75" r="3.1" fill="none" stroke="#555" stroke-width="1.9"/>
<circle cx="1399.5" cy="1871.5" r="3.1" fill="none" stroke="#555" stroke-width="1.9"/>
<circle cx="1416.25" cy="1877" r="3.1" fill="none" stroke="#555" stroke-width="1.9"/>
<circle cx="1433" cy="1882.75" r="3.1" fill="none" stroke="#555" stroke-width="1.9"/>
<circle cx="1449.5" cy="1888.5" r="3.1" fill="none" stroke="#555" stroke-width="1.9"/>
<circle cx="1466.25" cy="1894.25" r="3.1" fill="none" stroke="#555" stroke-width="1.9"/>
<circle cx="1483" cy="1900.25" r="3.1" fill="none" stroke="#555" stroke-width="1.9"/>
<circle cx="1496.25" cy="1911.5" r="3.1" fill="none" stroke="#555" stroke-width="1.9"/>
<circle cx="1509.5" cy="1923.25" r="3.1" fill="none" stroke="#555" stroke-width="1.9"/>
<circle cx="1523" cy="1934.75" r="3.1" fill="none" stroke="#555" stroke-width="1.9"/>
<circle cx="1533" cy="1951.5" r="3.1" fill="none" stroke="#555" stroke-width="1.9"/>
<circle cx="1543" cy="1969" r="3.1" fill="none" stroke="#555" stroke-width="1.9"/>
<circle cx="1552.75" cy="1992" r="3.1" fill="none" stroke="#555" stroke-width="1.9"/>
<circle cx="1559.5" cy="2015" r="3.1" fill="none" stroke="#555" stroke-width="1.9"/>
<circle cx="1566.25" cy="2038" r="3.1" fill="none" stroke="#555" stroke-width="1.9"/>
<circle cx="1573" cy="2061.25" r="3.1" fill="none" stroke="#555" stroke-width="1.9"/>
<path d="M1283 1823.75L1285.9 1829.35H1280.1Z" stroke="#555" stroke-width="2.1" fill="none" stroke-linejoin="miter"/>
<path d="M1316.25 1824.75L1319.15 1830.35H1313.35Z" stroke="#555" stroke-width="2.1" fill="none" stroke-linejoin="miter"/>
<path d="M1349.5 1831.75L1352.4 1837.35H1346.6Z" stroke="#555" stroke-width="2.1" fill="none" stroke-linejoin="miter"/>
<path d="M1366.5 1839.25L1369.4 1844.85H1363.6Z" stroke="#555" stroke-width="2.1" fill="none" stroke-linejoin="miter"/>
<path d="M1383.25 1847.5L1386.15 1853.1H1380.35Z" stroke="#555" stroke-width="2.1" fill="none" stroke-linejoin="miter"/>
<path d="M1399.5 1854.5L1402.4 1860.1H1396.6Z" stroke="#555" stroke-width="2.1" fill="none" stroke-linejoin="miter"/>
<path d="M1416.25 1862L1419.15 1867.6H1413.35Z" stroke="#555" stroke-width="2.1" fill="none" stroke-linejoin="miter"/>
<path d="M1433 1869.5L1435.9 1875.1H1430.1Z" stroke="#555" stroke-width="2.1" fill="none" stroke-linejoin="miter"/>
<path d="M1449.5 1877L1452.4 1882.6H1446.6Z" stroke="#555" stroke-width="2.1" fill="none" stroke-linejoin="miter"/>
<path d="M1466.25 1884.5L1469.15 1890.1H1463.35Z" stroke="#555" stroke-width="2.1" fill="none" stroke-linejoin="miter"/>
<path d="M1479.5 1892L1482.4 1897.6H1476.6Z" stroke="#555" stroke-width="2.1" fill="none" stroke-linejoin="miter"/>
<path d="M1492.75 1907.75L1495.65 1913.35H1489.85Z" stroke="#555" stroke-width="2.1" fill="none" stroke-linejoin="miter"/>
<path d="M1506.25 1922.75L1509.15 1928.35H1503.35Z" stroke="#555" stroke-width="2.1" fill="none" stroke-linejoin="miter"/>
<path d="M1519.5 1938.25L1522.4 1943.85H1516.6Z" stroke="#555" stroke-width="2.1" fill="none" stroke-linejoin="miter"/>
<path d="M1533 1953.5L1535.9 1959.1H1530.1Z" stroke="#555" stroke-width="2.1" fill="none" stroke-linejoin="miter"/>
<path d="M1539.5 1983.5L1542.4 1989.1H1536.6Z" stroke="#555" stroke-width="2.1" fill="none" stroke-linejoin="miter"/>
<path d="M1546.25 2013.5L1549.15 2019.1H1543.35Z" stroke="#555" stroke-width="2.1" fill="none" stroke-linejoin="miter"/>
<path d="M1552.75 2044L1555.65 2049.6H1549.85Z" stroke="#555" stroke-width="2.1" fill="none" stroke-linejoin="miter"/>
<path d="M1559.5 2074.25L1562.4 2079.85H1556.6Z" stroke="#555" stroke-width="2.1" fill="none" stroke-linejoin="miter"/>
<path d="M1211.85 1817.25H1220.65M1216.25 1812.85V1821.65" stroke="#555" stroke-width="1.9" fill="none"/>
<path d="M1245.1 1817.25H1253.9M1249.5 1812.85V1821.65" stroke="#555" stroke-width="1.9" fill="none"/>
<path d="M1278.6 1823.25H1287.4M1283 1818.85V1827.65" stroke="#555" stroke-width="1.9" fill="none"/>
<path d="M1311.85 1828.5H1320.65M1316.25 1824.1V1832.9" stroke="#555" stroke-width="1.9" fill="none"/>
<path d="M1328.6 1841.5H1337.4M1333 1837.1V1845.9" stroke="#555" stroke-width="1.9" fill="none"/>
<path d="M1345.1 1854H1353.9M1349.5 1849.6V1858.4" stroke="#555" stroke-width="1.9" fill="none"/>
<path d="M1361.85 1866.5H1370.65M1366.25 1862.1V1870.9" stroke="#555" stroke-width="1.9" fill="none"/>
<path d="M1378.6 1878.75H1387.4M1383 1874.35V1883.15" stroke="#555" stroke-width="1.9" fill="none"/>
<path d="M1395.1 1890.75H1403.9M1399.5 1886.35V1895.15" stroke="#555" stroke-width="1.9" fill="none"/>
<path d="M1411.85 1902.5H1420.65M1416.25 1898.1V1906.9" stroke="#555" stroke-width="1.9" fill="none"/>
<path d="M1428.6 1915H1437.4M1433 1910.6V1919.4" stroke="#555" stroke-width="1.9" fill="none"/>
<path d="M1455.1 1944.75H1463.9M1459.5 1940.35V1949.15" stroke="#555" stroke-width="1.9" fill="none"/>
<path d="M1468.6 1964H1477.4M1473 1959.6V1968.4" stroke="#555" stroke-width="1.9" fill="none"/>
<path d="M1478.6 1988.25H1487.4M1483 1983.85V1992.65" stroke="#555" stroke-width="1.9" fill="none"/>
<path d="M1488.35 2013H1497.15M1492.75 2008.6V2017.4" stroke="#555" stroke-width="1.9" fill="none"/>
<path d="M1498.35 2036.75H1507.15M1502.75 2032.35V2041.15" stroke="#555" stroke-width="1.9" fill="none"/>
<path d="M1505.1 2062H1513.9M1509.5 2057.6V2066.4" stroke="#555" stroke-width="1.9" fill="none"/>
<path d="M1512.1 2092.5H1520.9M1516.5 2088.1V2096.9" stroke="#555" stroke-width="1.9" fill="none"/>
<circle cx="1216.25" cy="1742.75" r="2.65" fill="#555"/>
<circle cx="1249.5" cy="1750" r="2.65" fill="#555"/>
<circle cx="1283" cy="1757" r="2.65" fill="#555"/>
<circle cx="1316.25" cy="1771.25" r="2.65" fill="#555"/>
<circle cx="1349.5" cy="1785.75" r="2.65" fill="#555"/>
<circle cx="1366.25" cy="1800" r="2.65" fill="#555"/>
<circle cx="1389.5" cy="1814.25" r="2.65" fill="#555"/>
<circle cx="1406.25" cy="1828.5" r="2.65" fill="#555"/>
<circle cx="1419.5" cy="1842.75" r="2.65" fill="#555"/>
<circle cx="1429.5" cy="1857" r="2.65" fill="#555"/>
<circle cx="1443" cy="1885" r="2.65" fill="#555"/>
<circle cx="1461.5" cy="1943" r="2.65" fill="#555"/>
<circle cx="1473" cy="1971" r="2.65" fill="#555"/>
<circle cx="1483" cy="1999.25" r="2.65" fill="#555"/>
<circle cx="1496.25" cy="2034.5" r="2.65" fill="#555"/>
<circle cx="1506" cy="2070.5" r="2.65" fill="#555"/>
<circle cx="1349.5" cy="1854.25" r="4.1" fill="#555"/>
<path d="M1126.25 1701.2L1128.75 1705.5L1126.25 1709.8L1123.75 1705.5Z" stroke="#555" stroke-width="1.9" fill="none"/>
<path d="M1159.5 1701.2L1162 1705.5L1159.5 1709.8L1157 1705.5Z" stroke="#555" stroke-width="1.9" fill="none"/>
<path d="M1192.75 1707.7L1195.25 1712L1192.75 1716.3L1190.25 1712Z" stroke="#555" stroke-width="1.9" fill="none"/>
<path d="M1226.25 1720.2L1228.75 1724.5L1226.25 1728.8L1223.75 1724.5Z" stroke="#555" stroke-width="1.9" fill="none"/>
<path d="M1243 1732.7L1245.5 1737L1243 1741.3L1240.5 1737Z" stroke="#555" stroke-width="1.9" fill="none"/>
<path d="M1259.75 1745.7L1262.25 1750L1259.75 1754.3L1257.25 1750Z" stroke="#555" stroke-width="1.9" fill="none"/>
<path d="M1276.25 1758.2L1278.75 1762.5L1276.25 1766.8L1273.75 1762.5Z" stroke="#555" stroke-width="1.9" fill="none"/>
<path d="M1292.75 1771.2L1295.25 1775.5L1292.75 1779.8L1290.25 1775.5Z" stroke="#555" stroke-width="1.9" fill="none"/>
<path d="M1309.5 1784.2L1312 1788.5L1309.5 1792.8L1307 1788.5Z" stroke="#555" stroke-width="1.9" fill="none"/>
<path d="M1326.25 1796.95L1328.75 1801.25L1326.25 1805.55L1323.75 1801.25Z" stroke="#555" stroke-width="1.9" fill="none"/>
<path d="M1343 1809.7L1345.5 1814L1343 1818.3L1340.5 1814Z" stroke="#555" stroke-width="1.9" fill="none"/>
<path d="M1356.25 1822.2L1358.75 1826.5L1356.25 1830.8L1353.75 1826.5Z" stroke="#555" stroke-width="1.9" fill="none"/>
<path d="M1369.5 1834.7L1372 1839L1369.5 1843.3L1367 1839Z" stroke="#555" stroke-width="1.9" fill="none"/>
<path d="M1383.25 1854.2L1385.75 1858.5L1383.25 1862.8L1380.75 1858.5Z" stroke="#555" stroke-width="1.9" fill="none"/>
<path d="M1393 1873.7L1395.5 1878L1393 1882.3L1390.5 1878Z" stroke="#555" stroke-width="1.9" fill="none"/>
<path d="M1406.25 1898.7L1408.75 1903L1406.25 1907.3L1403.75 1903Z" stroke="#555" stroke-width="1.9" fill="none"/>
<path d="M1419.5 1924.2L1422 1928.5L1419.5 1932.8L1417 1928.5Z" stroke="#555" stroke-width="1.9" fill="none"/>
<path d="M1429.5 1949.45L1432 1953.75L1429.5 1958.05L1427 1953.75Z" stroke="#555" stroke-width="1.9" fill="none"/>
<path d="M1436.25 1974.95L1438.75 1979.25L1436.25 1983.55L1433.75 1979.25Z" stroke="#555" stroke-width="1.9" fill="none"/>
<path d="M1443 2006.95L1445.5 2011.25L1443 2015.55L1440.5 2011.25Z" stroke="#555" stroke-width="1.9" fill="none"/>
<path d="M1449.5 2038.7L1452 2043L1449.5 2047.3L1447 2043Z" stroke="#555" stroke-width="1.9" fill="none"/>
<path d="M1456.25 2070.7L1458.75 2075L1456.25 2079.3L1453.75 2075Z" stroke="#555" stroke-width="1.9" fill="none"/>
<circle cx="1498" cy="1659.8" r="6.3" fill="none" stroke="#555" stroke-width="2.2"/>
<path d="M1498 1673.4L1503.5 1683.4H1492.5Z" stroke="#555" stroke-width="2.2" fill="none" stroke-linejoin="miter"/>
<path d="M1490.7 1701.3H1505.3M1498 1694V1708.6" stroke="#555" stroke-width="2.1" fill="none"/>
<circle cx="1498" cy="1721.6" r="4.7" fill="#555"/>
<path d="M1498 1734.45L1503.25 1742.7L1498 1750.95L1492.75 1742.7Z" stroke="#555" stroke-width="2.1" fill="none"/>
</g>
<g class="labels">
<text x="1012.29" y="1589.10" font-size="31" textLength="724.26" lengthAdjust="spacingAndGlyphs">12oba with dispersed citrate capped Au nanoparticles</text>
<text x="906.04" y="1577.50" font-size="39.5" font-weight="bold" textLength="16.56" lengthAdjust="spacingAndGlyphs">r</text>
<text x="946.04" y="1616.50" font-size="31.8" textLength="59.91" lengthAdjust="spacingAndGlyphs">0.18</text>
<text x="946.04" y="1719.30" font-size="31.8" textLength="59.91" lengthAdjust="spacingAndGlyphs">0.16</text>
<text x="946.05" y="1822.00" font-size="31.8" textLength="59.41" lengthAdjust="spacingAndGlyphs">0.14</text>
<text x="946.04" y="1924.50" font-size="31.8" textLength="59.91" lengthAdjust="spacingAndGlyphs">0.12</text>
<text x="946.05" y="2027.00" font-size="31.8" textLength="59.41" lengthAdjust="spacingAndGlyphs">0.10</text>
<text x="946.04" y="2129.50" font-size="31.8" textLength="59.91" lengthAdjust="spacingAndGlyphs">0.08</text>
<text x="992.64" y="2155.50" font-size="31.8" textLength="50.99" lengthAdjust="spacingAndGlyphs">395</text>
<text x="1158.13" y="2155.50" font-size="31.8" textLength="50.01" lengthAdjust="spacingAndGlyphs">400</text>
<text x="1322.63" y="2155.50" font-size="31.8" textLength="50.50" lengthAdjust="spacingAndGlyphs">405</text>
<text x="1487.63" y="2155.50" font-size="31.8" textLength="50.01" lengthAdjust="spacingAndGlyphs">410</text>
<text x="1652.13" y="2155.50" font-size="31.8" textLength="50.50" lengthAdjust="spacingAndGlyphs">415</text>
<text x="1256.03" y="2202.50" font-size="31" textLength="221.03" lengthAdjust="spacingAndGlyphs">Temperature (K)</text>
<text x="1125.36" y="2026.50" font-size="31.8" textLength="102.74" lengthAdjust="spacingAndGlyphs">635 nm</text>
<text x="-0.91" y="0.00" font-size="31.8" textLength="32.56" lengthAdjust="spacingAndGlyphs" transform="translate(924 1878) rotate(-90)">δn</text>
<text x="1512.24" y="1666.20" font-size="21.6" textLength="110.14" lengthAdjust="spacingAndGlyphs">12oba pure</text>
<text x="1512.24" y="1689.70" font-size="21.6" textLength="118.13" lengthAdjust="spacingAndGlyphs">12oba mix 1</text>
<text x="1512.24" y="1708.80" font-size="21.6" textLength="118.64" lengthAdjust="spacingAndGlyphs">12oba mix 2</text>
<text x="1512.24" y="1730.30" font-size="21.6" textLength="118.64" lengthAdjust="spacingAndGlyphs">12oba mix 3</text>
<text x="1512.24" y="1752.20" font-size="21.6" textLength="118.30" lengthAdjust="spacingAndGlyphs">12oba mix 4</text>
</g>
</g>
</svg>
</figure>
</body></html>
